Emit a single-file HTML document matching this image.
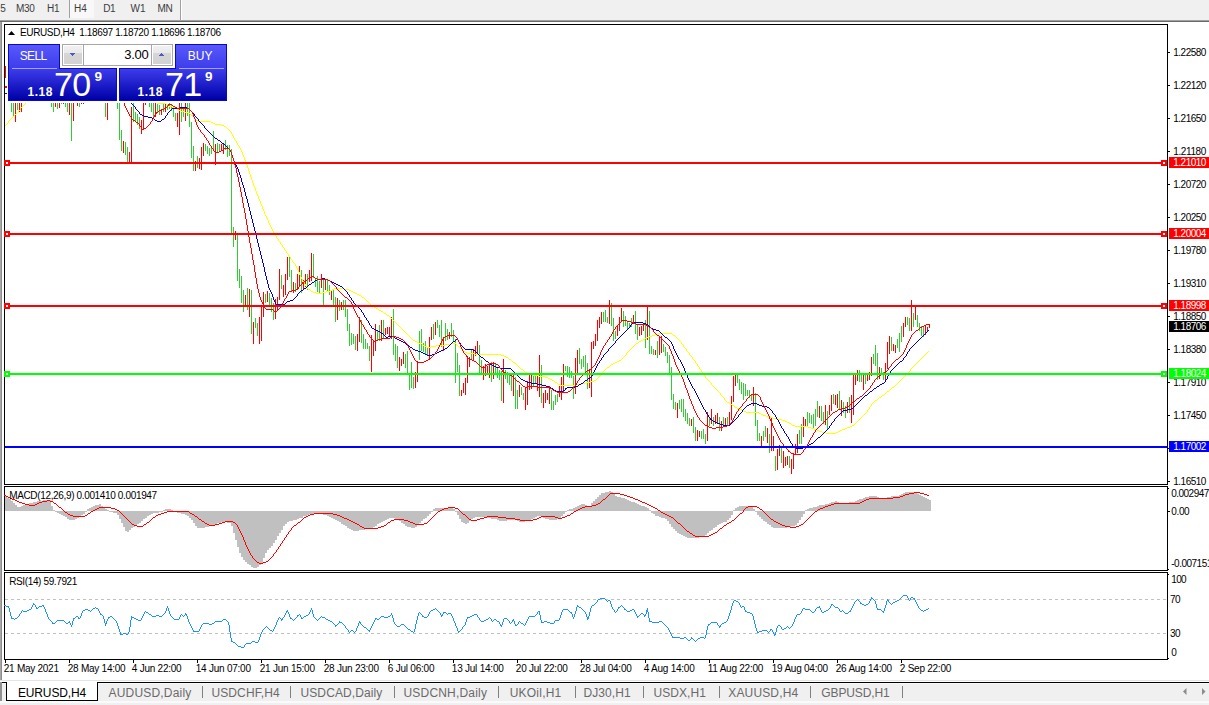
<!DOCTYPE html>
<html><head><meta charset="utf-8"><title>EURUSD,H4</title>
<style>
html,body{margin:0;padding:0;background:#fff;}
body{width:1209px;height:705px;overflow:hidden;position:relative;font-family:"Liberation Sans",sans-serif;font-size:11px;color:#000;}
.a{position:absolute;}
.t{position:absolute;white-space:nowrap;line-height:1;}
#tb{left:0;top:0;width:1209px;height:20px;background:#f0f0f0;}
.pl{position:absolute;left:1174px;font-size:10.5px;line-height:11px;white-space:nowrap;letter-spacing:-0.1px;}
.tag{position:absolute;left:1168px;width:41px;height:11px;color:#fff;font-size:10.5px;line-height:11px;padding-left:6px;box-sizing:border-box;white-space:nowrap;letter-spacing:-0.1px;}
.dl{position:absolute;top:664px;font-size:10.5px;line-height:11px;white-space:nowrap;letter-spacing:-0.15px;}
.tab{position:absolute;top:686px;font-size:12.5px;line-height:13px;color:#6a6a6a;white-space:nowrap;}
.sep{position:absolute;top:686px;width:1px;height:12px;background:#808080;}
</style></head><body>

<div class="a" id="tb"><div class="a" style="left:69px;top:0;width:1px;height:18px;background:#a0a0a0"></div><div class="a" style="left:70px;top:0;width:24px;height:18px;background:#f8f8f8"></div><div class="a" style="left:180px;top:0;width:1px;height:20px;background:#a0a0a0"></div><div class="a" style="left:181px;top:0;width:1px;height:20px;background:#fff"></div><div class="t" style="left:-6.10px;top:3px;font-size:10px;line-height:12px;letter-spacing:0.838px;color:#3c3c3c;">15</div><div class="t" style="left:16.00px;top:3px;font-size:10px;line-height:12px;letter-spacing:-0.318px;color:#3c3c3c;">M30</div><div class="t" style="left:47.10px;top:3px;font-size:10px;line-height:12px;letter-spacing:-0.292px;color:#3c3c3c;">H1</div><div class="t" style="left:74.10px;top:3px;font-size:10px;line-height:12px;letter-spacing:0.058px;color:#3c3c3c;">H4</div><div class="t" style="left:103.30px;top:3px;font-size:10px;line-height:12px;letter-spacing:-0.442px;color:#3c3c3c;">D1</div><div class="t" style="left:130.60px;top:3px;font-size:10px;line-height:12px;letter-spacing:-0.100px;color:#3c3c3c;">W1</div><div class="t" style="left:157.40px;top:3px;font-size:10px;line-height:12px;letter-spacing:-0.176px;color:#3c3c3c;">MN</div></div><div class="a" style="left:0;top:20px;width:1209px;height:1px;background:#a0a0a0"></div><div class="a" style="left:0;top:21px;width:1209px;height:1px;background:#6a6a6a"></div><div class="a" style="left:0;top:22px;width:1px;height:659px;background:#a8a8a8"></div><div class="a" style="left:1px;top:22px;width:1px;height:659px;background:#8c8c8c"></div>
<svg class="a" style="left:0;top:0" width="1209" height="705" viewBox="0 0 1209 705" shape-rendering="crispEdges">
<defs><clipPath id="cm"><rect x="5" y="103" width="1162" height="381"/></clipPath></defs>
<rect x="4.5" y="24.5" width="1163" height="460" fill="none" stroke="#000"/>
<rect x="4.5" y="486.5" width="1163" height="84" fill="none" stroke="#000"/>
<rect x="4.5" y="572.5" width="1163" height="87" fill="none" stroke="#000"/>
<g clip-path="url(#cm)">
<path d="M11 103h1v9h-1zM13 103h1v13h-1zM17 103h1v7h-1zM51 103h1v4h-1zM53 103h1v9h-1zM57 103h1v6h-1zM61 103h1v1h-1zM65 103h1v4h-1zM67 103h1v9h-1zM71 103h1v38h-1zM79 103h1v4h-1zM105 103h1v14h-1zM117 103h1v6h-1zM119 103h1v37h-1zM121 130h1v21h-1zM125 142h1v13h-1zM127 147h1v15h-1zM133 103h1v19h-1zM135 112h1v10h-1zM137 114h1v11h-1zM139 117h1v12h-1zM149 103h1v4h-1zM151 103h1v9h-1zM153 103h1v14h-1zM157 103h1v10h-1zM159 105h1v10h-1zM163 103h1v9h-1zM167 104h1v6h-1zM169 103h1v6h-1zM171 104h1v7h-1zM173 108h1v9h-1zM175 113h1v8h-1zM181 103h1v19h-1zM183 107h1v10h-1zM187 103h1v13h-1zM189 103h1v24h-1zM191 122h1v36h-1zM193 146h1v25h-1zM197 156h1v12h-1zM205 144h1v7h-1zM207 146h1v8h-1zM209 148h1v8h-1zM211 146h1v8h-1zM213 131h1v19h-1zM217 143h1v10h-1zM219 144h1v8h-1zM225 140h1v10h-1zM227 145h1v12h-1zM229 145h1v11h-1zM231 149h1v85h-1zM233 227h1v20h-1zM237 234h1v47h-1zM239 269h1v19h-1zM241 276h1v27h-1zM243 290h1v22h-1zM247 288h1v22h-1zM251 290h1v44h-1zM255 318h1v10h-1zM257 323h1v13h-1zM265 294h1v9h-1zM269 293h1v12h-1zM271 298h1v14h-1zM273 303h1v17h-1zM281 275h1v14h-1zM289 257h1v20h-1zM291 270h1v22h-1zM295 283h1v9h-1zM301 270h1v23h-1zM307 274h1v16h-1zM313 254h1v24h-1zM315 278h1v9h-1zM317 276h1v16h-1zM319 281h1v12h-1zM323 279h1v26h-1zM327 279h1v12h-1zM329 285h1v10h-1zM333 290h1v17h-1zM335 297h1v25h-1zM339 300h1v11h-1zM343 300h1v10h-1zM345 300h1v17h-1zM347 309h1v22h-1zM349 324h1v22h-1zM351 333h1v12h-1zM353 334h1v10h-1zM355 336h1v14h-1zM361 320h1v23h-1zM363 334h1v15h-1zM365 339h1v10h-1zM367 343h1v6h-1zM369 346h1v15h-1zM377 331h1v10h-1zM379 325h1v16h-1zM383 320h1v19h-1zM393 309h1v46h-1zM395 344h1v17h-1zM397 346h1v22h-1zM405 354h1v14h-1zM407 351h1v24h-1zM409 373h1v17h-1zM411 362h1v26h-1zM413 377h1v12h-1zM419 331h1v29h-1zM421 329h1v22h-1zM423 343h1v9h-1zM425 341h1v14h-1zM427 348h1v7h-1zM433 324h1v15h-1zM437 320h1v8h-1zM439 325h1v12h-1zM441 320h1v27h-1zM445 323h1v18h-1zM447 329h1v11h-1zM451 323h1v14h-1zM453 330h1v11h-1zM455 339h1v44h-1zM457 353h1v19h-1zM459 365h1v31h-1zM471 349h1v10h-1zM479 345h1v28h-1zM481 360h1v13h-1zM491 362h1v20h-1zM495 363h1v11h-1zM497 367h1v11h-1zM499 370h1v10h-1zM501 371h1v30h-1zM505 370h1v9h-1zM507 372h1v11h-1zM509 375h1v10h-1zM511 375h1v16h-1zM515 377h1v32h-1zM517 390h1v19h-1zM521 387h1v8h-1zM523 393h1v7h-1zM533 376h1v11h-1zM535 376h1v7h-1zM541 365h1v38h-1zM551 390h1v20h-1zM553 401h1v9h-1zM555 395h1v10h-1zM557 394h1v8h-1zM565 366h1v5h-1zM567 366h1v11h-1zM569 367h1v11h-1zM571 371h1v7h-1zM573 376h1v23h-1zM579 348h1v16h-1zM581 359h1v10h-1zM583 356h1v11h-1zM585 355h1v20h-1zM587 363h1v26h-1zM603 312h1v10h-1zM605 310h1v12h-1zM607 317h1v6h-1zM611 303h1v23h-1zM613 318h1v23h-1zM615 331h1v8h-1zM623 311h1v16h-1zM625 316h1v10h-1zM627 322h1v8h-1zM629 323h1v5h-1zM631 318h1v9h-1zM635 311h1v23h-1zM637 324h1v16h-1zM645 320h1v28h-1zM649 311h1v43h-1zM651 346h1v8h-1zM653 349h1v6h-1zM657 341h1v17h-1zM663 344h1v8h-1zM665 347h1v9h-1zM667 352h1v11h-1zM669 355h1v18h-1zM671 367h1v33h-1zM673 394h1v15h-1zM675 402h1v8h-1zM679 400h1v9h-1zM681 399h1v13h-1zM683 399h1v18h-1zM685 409h1v12h-1zM687 413h1v11h-1zM689 418h1v8h-1zM693 417h1v16h-1zM695 427h1v14h-1zM701 431h1v8h-1zM703 429h1v10h-1zM705 434h1v10h-1zM709 417h1v9h-1zM713 417h1v9h-1zM719 417h1v14h-1zM723 417h1v9h-1zM727 417h1v9h-1zM737 375h1v8h-1zM739 379h1v11h-1zM741 382h1v12h-1zM743 383h1v17h-1zM745 384h1v12h-1zM747 390h1v6h-1zM749 390h1v8h-1zM751 394h1v7h-1zM755 393h1v33h-1zM757 420h1v21h-1zM759 433h1v8h-1zM763 431h1v10h-1zM765 426h1v11h-1zM769 434h1v19h-1zM775 456h1v15h-1zM781 446h1v17h-1zM789 456h1v12h-1zM799 430h1v14h-1zM801 424h1v20h-1zM807 412h1v14h-1zM809 413h1v10h-1zM811 415h1v9h-1zM813 414h1v15h-1zM815 409h1v17h-1zM817 401h1v16h-1zM821 406h1v15h-1zM823 412h1v12h-1zM827 411h1v19h-1zM833 394h1v10h-1zM839 391h1v18h-1zM843 402h1v11h-1zM845 406h1v12h-1zM849 397h1v16h-1zM859 370h1v12h-1zM861 373h1v9h-1zM865 375h1v9h-1zM873 354h1v10h-1zM875 345h1v21h-1zM877 353h1v27h-1zM881 368h1v7h-1zM883 372h1v8h-1zM891 337h1v14h-1zM897 339h1v9h-1zM899 333h1v19h-1zM901 326h1v16h-1zM907 317h1v8h-1zM909 318h1v13h-1zM913 313h1v14h-1zM917 315h1v12h-1zM919 323h1v8h-1zM921 326h1v10h-1zM923 326h1v11h-1z" fill="#32cd32"/>
<path d="M15 103h1v19h-1zM19 103h1v9h-1zM21 103h1v9h-1zM55 103h1v4h-1zM59 103h1v5h-1zM63 103h1v1h-1zM69 103h1v12h-1zM73 103h1v18h-1zM77 103h1v3h-1zM81 103h1v1h-1zM83 103h1v1h-1zM107 103h1v17h-1zM123 141h1v12h-1zM129 152h1v10h-1zM131 107h1v55h-1zM141 120h1v14h-1zM143 103h1v26h-1zM145 103h1v2h-1zM155 103h1v14h-1zM161 110h1v5h-1zM165 103h1v9h-1zM177 113h1v14h-1zM179 103h1v32h-1zM185 103h1v18h-1zM195 161h1v10h-1zM199 158h1v11h-1zM201 147h1v23h-1zM203 143h1v13h-1zM215 144h1v21h-1zM221 144h1v7h-1zM223 143h1v11h-1zM235 231h1v9h-1zM245 295h1v12h-1zM249 289h1v28h-1zM253 322h1v22h-1zM259 317h1v27h-1zM261 305h1v36h-1zM263 292h1v25h-1zM267 291h1v11h-1zM275 299h1v20h-1zM277 297h1v13h-1zM279 269h1v31h-1zM283 285h1v12h-1zM285 274h1v21h-1zM287 257h1v23h-1zM293 282h1v11h-1zM297 274h1v16h-1zM299 266h1v21h-1zM303 280h1v10h-1zM305 274h1v13h-1zM309 270h1v12h-1zM311 253h1v28h-1zM321 274h1v14h-1zM325 279h1v11h-1zM331 291h1v9h-1zM337 298h1v22h-1zM341 302h1v8h-1zM357 334h1v17h-1zM359 317h1v25h-1zM371 335h1v37h-1zM373 340h1v16h-1zM375 324h1v27h-1zM381 320h1v21h-1zM385 328h1v7h-1zM387 327h1v7h-1zM389 327h1v9h-1zM391 317h1v22h-1zM399 357h1v14h-1zM401 359h1v7h-1zM403 352h1v12h-1zM415 372h1v16h-1zM417 361h1v21h-1zM429 337h1v23h-1zM431 327h1v13h-1zM435 322h1v13h-1zM443 337h1v14h-1zM449 332h1v7h-1zM461 390h1v6h-1zM463 383h1v10h-1zM465 378h1v17h-1zM467 356h1v27h-1zM469 357h1v10h-1zM473 349h1v11h-1zM475 346h1v10h-1zM477 341h1v12h-1zM483 366h1v14h-1zM485 364h1v12h-1zM487 366h1v8h-1zM489 363h1v15h-1zM493 362h1v17h-1zM503 359h1v44h-1zM513 375h1v21h-1zM519 385h1v12h-1zM525 388h1v22h-1zM527 381h1v24h-1zM529 374h1v16h-1zM531 373h1v16h-1zM537 375h1v16h-1zM539 355h1v42h-1zM543 393h1v15h-1zM545 390h1v13h-1zM547 393h1v7h-1zM549 386h1v18h-1zM559 386h1v11h-1zM561 377h1v23h-1zM563 364h1v28h-1zM575 358h1v36h-1zM577 350h1v23h-1zM589 370h1v18h-1zM591 342h1v55h-1zM593 341h1v8h-1zM595 334h1v12h-1zM597 320h1v21h-1zM599 317h1v11h-1zM601 312h1v12h-1zM609 300h1v24h-1zM617 326h1v10h-1zM619 317h1v14h-1zM621 308h1v14h-1zM633 315h1v8h-1zM639 327h1v9h-1zM641 326h1v9h-1zM643 323h1v8h-1zM647 307h1v33h-1zM655 350h1v5h-1zM659 336h1v19h-1zM661 336h1v17h-1zM677 403h1v15h-1zM691 419h1v7h-1zM697 430h1v11h-1zM699 431h1v6h-1zM707 412h1v29h-1zM711 409h1v15h-1zM715 415h1v9h-1zM717 413h1v11h-1zM721 421h1v10h-1zM725 418h1v9h-1zM729 412h1v14h-1zM731 396h1v24h-1zM733 376h1v26h-1zM735 373h1v13h-1zM753 387h1v19h-1zM761 436h1v11h-1zM767 428h1v15h-1zM771 417h1v34h-1zM773 436h1v15h-1zM777 449h1v21h-1zM779 445h1v11h-1zM783 451h1v17h-1zM785 457h1v9h-1zM787 456h1v9h-1zM791 459h1v15h-1zM793 453h1v16h-1zM795 444h1v11h-1zM797 434h1v19h-1zM803 417h1v20h-1zM805 419h1v8h-1zM819 406h1v12h-1zM825 405h1v20h-1zM829 405h1v10h-1zM831 395h1v16h-1zM835 395h1v10h-1zM837 394h1v14h-1zM841 400h1v16h-1zM847 402h1v11h-1zM851 395h1v28h-1zM853 375h1v40h-1zM855 375h1v10h-1zM857 370h1v11h-1zM863 375h1v15h-1zM867 374h1v7h-1zM869 372h1v8h-1zM871 357h1v19h-1zM879 367h1v12h-1zM885 363h1v19h-1zM887 342h1v27h-1zM889 336h1v18h-1zM893 344h1v7h-1zM895 345h1v8h-1zM903 323h1v14h-1zM905 317h1v10h-1zM911 300h1v31h-1zM915 306h1v14h-1zM925 326h1v9h-1zM927 327h1v5h-1z" fill="#ff0000"/>
<path d="M4 125h1v1h-1zM5 125h1v1h-1zM6 124h1v1h-1zM7 123h1v1h-1zM8 121h1v2h-1zM9 120h1v1h-1zM10 119h1v1h-1zM11 118h1v1h-1zM12 117h1v1h-1zM13 116h1v1h-1zM14 115h1v1h-1zM15 114h1v1h-1zM16 113h1v1h-1zM17 112h1v1h-1zM18 111h1v1h-1zM19 110h1v1h-1zM20 108h1v2h-1zM21 107h1v1h-1zM22 106h1v1h-1zM23 105h1v1h-1zM24 104h1v1h-1zM25 103h1v1h-1zM26 101h1v2h-1zM27 99h1v2h-1zM28 97h1v2h-1zM29 96h1v1h-1z" fill="#ffff00" />
<path d="M153 98h1v1h-1zM154 99h1v1h-1zM155 100h1v2h-1zM156 102h1v1h-1zM157 103h1v1h-1zM158 103h1v1h-1zM159 103h1v1h-1zM160 103h1v1h-1zM161 103h1v1h-1zM162 103h1v1h-1zM163 103h1v1h-1zM164 103h1v1h-1zM165 103h1v1h-1zM166 104h1v1h-1zM167 104h1v1h-1zM168 105h1v1h-1zM169 106h1v1h-1zM170 106h1v1h-1zM171 106h1v1h-1zM172 107h1v1h-1zM173 107h1v1h-1zM174 107h1v1h-1zM175 108h1v1h-1zM176 108h1v1h-1zM177 109h1v1h-1zM178 109h1v1h-1zM179 110h1v1h-1zM180 110h1v1h-1zM181 111h1v1h-1zM182 111h1v1h-1zM183 111h1v1h-1zM184 111h1v1h-1zM185 112h1v1h-1zM186 112h1v1h-1zM187 112h1v1h-1zM188 113h1v1h-1zM189 113h1v1h-1zM190 114h1v1h-1zM191 115h1v1h-1zM192 115h1v1h-1zM193 116h1v1h-1zM194 117h1v2h-1zM195 119h1v1h-1zM196 120h1v1h-1zM197 120h1v1h-1zM198 121h1v1h-1zM199 121h1v1h-1zM200 121h1v1h-1zM201 121h1v1h-1zM202 121h1v1h-1zM203 121h1v1h-1zM204 121h1v1h-1zM205 121h1v1h-1zM206 121h1v1h-1zM207 121h1v1h-1zM208 121h1v1h-1zM209 121h1v1h-1zM210 121h1v1h-1zM211 122h1v1h-1zM212 122h1v1h-1zM213 123h1v1h-1zM214 123h1v1h-1zM215 124h1v1h-1zM216 124h1v1h-1zM217 124h1v1h-1zM218 124h1v1h-1zM219 124h1v1h-1zM220 124h1v1h-1zM221 125h1v1h-1zM222 125h1v1h-1zM223 125h1v1h-1zM224 126h1v1h-1zM225 126h1v1h-1zM226 127h1v1h-1zM227 128h1v1h-1zM228 129h1v1h-1zM229 130h1v1h-1zM230 131h1v1h-1zM231 132h1v2h-1zM232 134h1v2h-1zM233 136h1v2h-1zM234 138h1v2h-1zM235 140h1v1h-1zM236 141h1v2h-1zM237 143h1v2h-1zM238 145h1v1h-1zM239 146h1v2h-1zM240 148h1v2h-1zM241 150h1v2h-1zM242 152h1v3h-1zM243 155h1v2h-1zM244 157h1v3h-1zM245 160h1v3h-1zM246 163h1v2h-1zM247 165h1v3h-1zM248 168h1v3h-1zM249 171h1v3h-1zM250 174h1v3h-1zM251 177h1v3h-1zM252 180h1v3h-1zM253 183h1v3h-1zM254 186h1v2h-1zM255 188h1v3h-1zM256 191h1v3h-1zM257 194h1v2h-1zM258 196h1v3h-1zM259 199h1v2h-1zM260 201h1v3h-1zM261 204h1v2h-1zM262 206h1v3h-1zM263 209h1v2h-1zM264 211h1v3h-1zM265 214h1v2h-1zM266 216h1v2h-1zM267 218h1v2h-1zM268 220h1v3h-1zM269 223h1v2h-1zM270 225h1v2h-1zM271 227h1v2h-1zM272 229h1v2h-1zM273 231h1v2h-1zM274 233h1v1h-1zM275 234h1v2h-1zM276 236h1v2h-1zM277 238h1v1h-1zM278 239h1v2h-1zM279 241h1v1h-1zM280 242h1v2h-1zM281 244h1v1h-1zM282 245h1v2h-1zM283 247h1v1h-1zM284 248h1v2h-1zM285 250h1v1h-1zM286 251h1v2h-1zM287 253h1v1h-1zM288 254h1v2h-1zM289 256h1v1h-1zM290 257h1v2h-1zM291 259h1v1h-1zM292 260h1v2h-1zM293 262h1v1h-1zM294 263h1v1h-1zM295 264h1v2h-1zM296 266h1v2h-1zM297 268h1v2h-1zM298 270h1v2h-1zM299 272h1v3h-1zM300 275h1v2h-1zM301 277h1v2h-1zM302 279h1v2h-1zM303 281h1v1h-1zM304 282h1v2h-1zM305 284h1v2h-1zM306 286h1v1h-1zM307 287h1v2h-1zM308 289h1v1h-1zM309 289h1v1h-1zM310 290h1v1h-1zM311 291h1v1h-1zM312 291h1v1h-1zM313 292h1v1h-1zM314 292h1v1h-1zM315 292h1v1h-1zM316 293h1v1h-1zM317 293h1v1h-1zM318 293h1v1h-1zM319 293h1v1h-1zM320 293h1v1h-1zM321 293h1v1h-1zM322 292h1v1h-1zM323 292h1v1h-1zM324 292h1v1h-1zM325 292h1v1h-1zM326 291h1v1h-1zM327 291h1v1h-1zM328 291h1v1h-1zM329 291h1v1h-1zM330 290h1v1h-1zM331 290h1v1h-1zM332 289h1v1h-1zM333 289h1v1h-1zM334 288h1v1h-1zM335 288h1v1h-1zM336 288h1v1h-1zM337 288h1v1h-1zM338 288h1v1h-1zM339 288h1v1h-1zM340 288h1v1h-1zM341 288h1v1h-1zM342 288h1v1h-1zM343 288h1v1h-1zM344 289h1v1h-1zM345 289h1v1h-1zM346 289h1v1h-1zM347 289h1v1h-1zM348 289h1v1h-1zM349 290h1v1h-1zM350 290h1v1h-1zM351 291h1v1h-1zM352 291h1v1h-1zM353 292h1v1h-1zM354 292h1v1h-1zM355 293h1v1h-1zM356 293h1v1h-1zM357 294h1v1h-1zM358 294h1v1h-1zM359 295h1v1h-1zM360 295h1v1h-1zM361 296h1v1h-1zM362 297h1v1h-1zM363 297h1v1h-1zM364 298h1v1h-1zM365 299h1v1h-1zM366 300h1v1h-1zM367 301h1v1h-1zM368 302h1v1h-1zM369 303h1v1h-1zM370 304h1v1h-1zM371 305h1v1h-1zM372 306h1v1h-1zM373 306h1v1h-1zM374 307h1v1h-1zM375 307h1v1h-1zM376 308h1v1h-1zM377 308h1v1h-1zM378 309h1v1h-1zM379 310h1v1h-1zM380 310h1v1h-1zM381 311h1v1h-1zM382 311h1v1h-1zM383 312h1v1h-1zM384 313h1v1h-1zM385 313h1v1h-1zM386 314h1v1h-1zM387 315h1v1h-1zM388 315h1v1h-1zM389 316h1v1h-1zM390 317h1v1h-1zM391 318h1v1h-1zM392 319h1v1h-1zM393 320h1v1h-1zM394 321h1v1h-1zM395 322h1v1h-1zM396 323h1v1h-1zM397 324h1v1h-1zM398 325h1v1h-1zM399 326h1v1h-1zM400 327h1v1h-1zM401 328h1v1h-1zM402 329h1v1h-1zM403 330h1v1h-1zM404 331h1v1h-1zM405 332h1v1h-1zM406 333h1v1h-1zM407 334h1v1h-1zM408 335h1v1h-1zM409 336h1v1h-1zM410 337h1v1h-1zM411 338h1v1h-1zM412 339h1v1h-1zM413 340h1v1h-1zM414 340h1v1h-1zM415 341h1v1h-1zM416 341h1v1h-1zM417 342h1v1h-1zM418 342h1v1h-1zM419 343h1v1h-1zM420 343h1v1h-1zM421 343h1v1h-1zM422 344h1v1h-1zM423 345h1v1h-1zM424 345h1v1h-1zM425 346h1v1h-1zM426 346h1v1h-1zM427 347h1v1h-1zM428 347h1v1h-1zM429 347h1v1h-1zM430 347h1v1h-1zM431 346h1v1h-1zM432 346h1v1h-1zM433 346h1v1h-1zM434 346h1v1h-1zM435 346h1v1h-1zM436 345h1v1h-1zM437 345h1v1h-1zM438 345h1v1h-1zM439 345h1v1h-1zM440 345h1v1h-1zM441 345h1v1h-1zM442 345h1v1h-1zM443 345h1v1h-1zM444 345h1v1h-1zM445 344h1v1h-1zM446 344h1v1h-1zM447 344h1v1h-1zM448 344h1v1h-1zM449 344h1v1h-1zM450 344h1v1h-1zM451 343h1v1h-1zM452 343h1v1h-1zM453 343h1v1h-1zM454 343h1v1h-1zM455 343h1v1h-1zM456 344h1v1h-1zM457 345h1v1h-1zM458 346h1v1h-1zM459 347h1v1h-1zM460 348h1v1h-1zM461 348h1v1h-1zM462 349h1v2h-1zM463 350h1v1h-1zM464 351h1v1h-1zM465 352h1v1h-1zM466 352h1v1h-1zM467 353h1v1h-1zM468 353h1v1h-1zM469 353h1v1h-1zM470 353h1v1h-1zM471 353h1v1h-1zM472 353h1v1h-1zM473 353h1v1h-1zM474 353h1v1h-1zM475 354h1v1h-1zM476 354h1v1h-1zM477 354h1v1h-1zM478 354h1v1h-1zM479 354h1v1h-1zM480 354h1v1h-1zM481 354h1v1h-1zM482 354h1v1h-1zM483 354h1v1h-1zM484 354h1v1h-1zM485 354h1v1h-1zM486 354h1v1h-1zM487 354h1v1h-1zM488 354h1v1h-1zM489 354h1v1h-1zM490 354h1v1h-1zM491 354h1v1h-1zM492 354h1v1h-1zM493 354h1v1h-1zM494 354h1v1h-1zM495 354h1v1h-1zM496 354h1v1h-1zM497 354h1v1h-1zM498 354h1v1h-1zM499 354h1v1h-1zM500 354h1v1h-1zM501 355h1v1h-1zM502 355h1v1h-1zM503 355h1v1h-1zM504 356h1v1h-1zM505 356h1v1h-1zM506 357h1v1h-1zM507 357h1v1h-1zM508 358h1v1h-1zM509 359h1v1h-1zM510 359h1v1h-1zM511 360h1v1h-1zM512 361h1v1h-1zM513 362h1v1h-1zM514 362h1v1h-1zM515 363h1v1h-1zM516 364h1v1h-1zM517 365h1v1h-1zM518 366h1v1h-1zM519 367h1v1h-1zM520 368h1v1h-1zM521 369h1v1h-1zM522 369h1v1h-1zM523 370h1v1h-1zM524 371h1v1h-1zM525 372h1v1h-1zM526 372h1v1h-1zM527 373h1v1h-1zM528 373h1v1h-1zM529 373h1v1h-1zM530 374h1v1h-1zM531 374h1v1h-1zM532 374h1v1h-1zM533 374h1v1h-1zM534 375h1v1h-1zM535 375h1v1h-1zM536 375h1v1h-1zM537 375h1v1h-1zM538 375h1v1h-1zM539 376h1v1h-1zM540 376h1v1h-1zM541 376h1v1h-1zM542 376h1v1h-1zM543 376h1v1h-1zM544 376h1v1h-1zM545 377h1v1h-1zM546 377h1v1h-1zM547 377h1v1h-1zM548 378h1v1h-1zM549 378h1v1h-1zM550 379h1v1h-1zM551 379h1v1h-1zM552 380h1v1h-1zM553 380h1v1h-1zM554 381h1v1h-1zM555 382h1v1h-1zM556 382h1v1h-1zM557 383h1v1h-1zM558 384h1v1h-1zM559 384h1v1h-1zM560 384h1v1h-1zM561 385h1v1h-1zM562 385h1v1h-1zM563 385h1v1h-1zM564 385h1v1h-1zM565 385h1v1h-1zM566 385h1v1h-1zM567 385h1v1h-1zM568 385h1v1h-1zM569 385h1v1h-1zM570 385h1v1h-1zM571 385h1v1h-1zM572 385h1v1h-1zM573 385h1v1h-1zM574 385h1v1h-1zM575 385h1v1h-1zM576 384h1v1h-1zM577 384h1v1h-1zM578 384h1v1h-1zM579 384h1v1h-1zM580 384h1v1h-1zM581 384h1v1h-1zM582 383h1v1h-1zM583 383h1v1h-1zM584 383h1v1h-1zM585 383h1v1h-1zM586 382h1v1h-1zM587 382h1v1h-1zM588 382h1v1h-1zM589 382h1v1h-1zM590 381h1v1h-1zM591 381h1v1h-1zM592 381h1v1h-1zM593 381h1v1h-1zM594 380h1v1h-1zM595 380h1v1h-1zM596 379h1v1h-1zM597 378h1v1h-1zM598 377h1v1h-1zM599 376h1v1h-1zM600 375h1v1h-1zM601 373h1v2h-1zM602 372h1v1h-1zM603 371h1v1h-1zM604 370h1v1h-1zM605 369h1v1h-1zM606 368h1v1h-1zM607 367h1v1h-1zM608 367h1v1h-1zM609 366h1v1h-1zM610 365h1v1h-1zM611 364h1v1h-1zM612 364h1v1h-1zM613 363h1v1h-1zM614 363h1v1h-1zM615 362h1v1h-1zM616 362h1v1h-1zM617 361h1v1h-1zM618 361h1v1h-1zM619 360h1v1h-1zM620 360h1v1h-1zM621 359h1v1h-1zM622 358h1v1h-1zM623 357h1v1h-1zM624 356h1v1h-1zM625 355h1v1h-1zM626 353h1v2h-1zM627 352h1v1h-1zM628 351h1v1h-1zM629 350h1v1h-1zM630 349h1v1h-1zM631 348h1v1h-1zM632 347h1v1h-1zM633 346h1v1h-1zM634 345h1v1h-1zM635 344h1v1h-1zM636 343h1v1h-1zM637 343h1v1h-1zM638 342h1v1h-1zM639 341h1v1h-1zM640 341h1v1h-1zM641 340h1v1h-1zM642 340h1v1h-1zM643 339h1v1h-1zM644 339h1v1h-1zM645 338h1v1h-1zM646 338h1v1h-1zM647 337h1v1h-1zM648 337h1v1h-1zM649 336h1v1h-1zM650 336h1v1h-1zM651 336h1v1h-1zM652 335h1v1h-1zM653 335h1v1h-1zM654 335h1v1h-1zM655 334h1v1h-1zM656 334h1v1h-1zM657 334h1v1h-1zM658 333h1v1h-1zM659 333h1v1h-1zM660 333h1v1h-1zM661 333h1v1h-1zM662 333h1v1h-1zM663 333h1v1h-1zM664 333h1v1h-1zM665 333h1v1h-1zM666 333h1v1h-1zM667 333h1v1h-1zM668 333h1v1h-1zM669 333h1v1h-1zM670 333h1v1h-1zM671 333h1v1h-1zM672 334h1v1h-1zM673 335h1v1h-1zM674 335h1v1h-1zM675 336h1v1h-1zM676 337h1v1h-1zM677 338h1v1h-1zM678 339h1v1h-1zM679 340h1v1h-1zM680 341h1v1h-1zM681 342h1v2h-1zM682 344h1v1h-1zM683 345h1v2h-1zM684 347h1v1h-1zM685 348h1v1h-1zM686 349h1v2h-1zM687 351h1v1h-1zM688 352h1v1h-1zM689 353h1v2h-1zM690 355h1v1h-1zM691 356h1v1h-1zM692 357h1v2h-1zM693 359h1v1h-1zM694 360h1v1h-1zM695 361h1v2h-1zM696 363h1v1h-1zM697 364h1v2h-1zM698 366h1v1h-1zM699 367h1v2h-1zM700 369h1v1h-1zM701 370h1v2h-1zM702 372h1v1h-1zM703 373h1v2h-1zM704 375h1v1h-1zM705 376h1v2h-1zM706 378h1v1h-1zM707 379h1v1h-1zM708 380h1v1h-1zM709 381h1v1h-1zM710 382h1v1h-1zM711 383h1v2h-1zM712 385h1v1h-1zM713 386h1v1h-1zM714 387h1v1h-1zM715 388h1v1h-1zM716 389h1v1h-1zM717 390h1v1h-1zM718 391h1v1h-1zM719 392h1v1h-1zM720 393h1v2h-1zM721 395h1v1h-1zM722 396h1v1h-1zM723 397h1v1h-1zM724 398h1v2h-1zM725 400h1v1h-1zM726 401h1v1h-1zM727 402h1v1h-1zM728 402h1v1h-1zM729 403h1v1h-1zM730 404h1v1h-1zM731 404h1v1h-1zM732 405h1v1h-1zM733 405h1v1h-1zM734 406h1v1h-1zM735 407h1v1h-1zM736 407h1v1h-1zM737 408h1v1h-1zM738 408h1v1h-1zM739 409h1v1h-1zM740 409h1v1h-1zM741 409h1v1h-1zM742 410h1v1h-1zM743 410h1v1h-1zM744 411h1v1h-1zM745 411h1v1h-1zM746 412h1v1h-1zM747 412h1v1h-1zM748 412h1v1h-1zM749 412h1v1h-1zM750 412h1v1h-1zM751 412h1v1h-1zM752 412h1v1h-1zM753 412h1v1h-1zM754 412h1v1h-1zM755 412h1v1h-1zM756 412h1v1h-1zM757 412h1v1h-1zM758 412h1v1h-1zM759 413h1v1h-1zM760 413h1v1h-1zM761 414h1v1h-1zM762 414h1v1h-1zM763 415h1v1h-1zM764 415h1v1h-1zM765 415h1v1h-1zM766 416h1v1h-1zM767 416h1v1h-1zM768 416h1v1h-1zM769 417h1v1h-1zM770 417h1v1h-1zM771 417h1v1h-1zM772 417h1v1h-1zM773 418h1v1h-1zM774 418h1v1h-1zM775 418h1v1h-1zM776 418h1v1h-1zM777 418h1v1h-1zM778 419h1v1h-1zM779 419h1v1h-1zM780 419h1v1h-1zM781 419h1v1h-1zM782 420h1v1h-1zM783 420h1v1h-1zM784 420h1v1h-1zM785 421h1v1h-1zM786 421h1v1h-1zM787 422h1v1h-1zM788 422h1v1h-1zM789 423h1v1h-1zM790 423h1v1h-1zM791 424h1v1h-1zM792 425h1v1h-1zM793 425h1v1h-1zM794 425h1v1h-1zM795 426h1v1h-1zM796 426h1v1h-1zM797 426h1v1h-1zM798 426h1v1h-1zM799 426h1v1h-1zM800 426h1v1h-1zM801 426h1v1h-1zM802 426h1v1h-1zM803 426h1v1h-1zM804 426h1v1h-1zM805 426h1v1h-1zM806 426h1v1h-1zM807 426h1v1h-1zM808 427h1v1h-1zM809 427h1v1h-1zM810 427h1v1h-1zM811 428h1v1h-1zM812 428h1v1h-1zM813 428h1v1h-1zM814 429h1v1h-1zM815 429h1v1h-1zM816 429h1v1h-1zM817 430h1v1h-1zM818 430h1v1h-1zM819 431h1v1h-1zM820 431h1v1h-1zM821 431h1v1h-1zM822 432h1v1h-1zM823 432h1v1h-1zM824 432h1v1h-1zM825 432h1v1h-1zM826 433h1v1h-1zM827 433h1v1h-1zM828 433h1v1h-1zM829 433h1v1h-1zM830 433h1v1h-1zM831 433h1v1h-1zM832 433h1v1h-1zM833 433h1v1h-1zM834 433h1v1h-1zM835 433h1v1h-1zM836 432h1v1h-1zM837 432h1v1h-1zM838 431h1v1h-1zM839 431h1v1h-1zM840 430h1v1h-1zM841 430h1v1h-1zM842 429h1v1h-1zM843 429h1v1h-1zM844 429h1v1h-1zM845 428h1v1h-1zM846 428h1v1h-1zM847 427h1v1h-1zM848 427h1v1h-1zM849 427h1v1h-1zM850 426h1v1h-1zM851 426h1v1h-1zM852 425h1v1h-1zM853 425h1v1h-1zM854 424h1v1h-1zM855 423h1v1h-1zM856 422h1v1h-1zM857 421h1v1h-1zM858 420h1v1h-1zM859 419h1v1h-1zM860 418h1v1h-1zM861 417h1v1h-1zM862 416h1v1h-1zM863 415h1v1h-1zM864 414h1v1h-1zM865 413h1v1h-1zM866 412h1v1h-1zM867 410h1v2h-1zM868 409h1v1h-1zM869 407h1v2h-1zM870 406h1v1h-1zM871 404h1v2h-1zM872 403h1v1h-1zM873 402h1v1h-1zM874 401h1v1h-1zM875 400h1v1h-1zM876 400h1v1h-1zM877 399h1v1h-1zM878 398h1v1h-1zM879 397h1v1h-1zM880 397h1v1h-1zM881 396h1v1h-1zM882 395h1v1h-1zM883 395h1v1h-1zM884 394h1v1h-1zM885 393h1v1h-1zM886 392h1v1h-1zM887 391h1v1h-1zM888 391h1v1h-1zM889 390h1v1h-1zM890 389h1v1h-1zM891 388h1v1h-1zM892 387h1v1h-1zM893 387h1v1h-1zM894 386h1v1h-1zM895 385h1v1h-1zM896 384h1v1h-1zM897 383h1v1h-1zM898 382h1v1h-1zM899 381h1v1h-1zM900 380h1v1h-1zM901 379h1v1h-1zM902 378h1v1h-1zM903 377h1v1h-1zM904 376h1v1h-1zM905 375h1v1h-1zM906 374h1v1h-1zM907 373h1v1h-1zM908 372h1v1h-1zM909 371h1v1h-1zM910 369h1v2h-1zM911 368h1v1h-1zM912 367h1v1h-1zM913 366h1v1h-1zM914 365h1v1h-1zM915 364h1v1h-1zM916 363h1v1h-1zM917 362h1v1h-1zM918 361h1v1h-1zM919 360h1v1h-1zM920 359h1v1h-1zM921 358h1v1h-1zM922 357h1v1h-1zM923 356h1v1h-1zM924 355h1v1h-1zM925 354h1v1h-1zM926 353h1v1h-1zM927 352h1v1h-1zM928 351h1v1h-1z" fill="#ffff00" />
<path d="M126 95h1v1h-1zM127 96h1v1h-1zM128 97h1v2h-1zM129 99h1v2h-1zM130 101h1v1h-1zM131 102h1v2h-1zM132 104h1v1h-1zM133 105h1v1h-1zM134 106h1v1h-1zM135 107h1v2h-1zM136 109h1v1h-1zM137 110h1v1h-1zM138 111h1v1h-1zM139 112h1v2h-1zM140 114h1v1h-1zM141 114h1v1h-1zM142 115h1v1h-1zM143 115h1v1h-1zM144 116h1v1h-1zM145 116h1v1h-1zM146 116h1v1h-1zM147 116h1v1h-1zM148 117h1v1h-1zM149 117h1v1h-1zM150 117h1v1h-1zM151 117h1v1h-1zM152 118h1v1h-1zM153 118h1v1h-1zM154 119h1v1h-1zM155 120h1v1h-1zM156 120h1v1h-1zM157 121h1v1h-1zM158 121h1v1h-1zM159 121h1v1h-1zM160 121h1v1h-1zM161 120h1v1h-1zM162 119h1v1h-1zM163 119h1v1h-1zM164 118h1v1h-1zM165 116h1v2h-1zM166 115h1v1h-1zM167 113h1v2h-1zM168 112h1v1h-1zM169 111h1v1h-1zM170 110h1v1h-1zM171 109h1v1h-1zM172 108h1v1h-1zM173 108h1v1h-1zM174 108h1v1h-1zM175 108h1v1h-1zM176 108h1v1h-1zM177 108h1v1h-1zM178 108h1v1h-1zM179 108h1v1h-1zM180 107h1v1h-1zM181 107h1v1h-1zM182 107h1v1h-1zM183 107h1v1h-1zM184 107h1v1h-1zM185 107h1v1h-1zM186 107h1v1h-1zM187 108h1v1h-1zM188 108h1v1h-1zM189 109h1v1h-1zM190 110h1v1h-1zM191 111h1v1h-1zM192 112h1v1h-1zM193 113h1v1h-1zM194 114h1v2h-1zM195 116h1v1h-1zM196 117h1v1h-1zM197 118h1v1h-1zM198 119h1v2h-1zM199 121h1v1h-1zM200 122h1v1h-1zM201 123h1v1h-1zM202 124h1v1h-1zM203 125h1v1h-1zM204 126h1v2h-1zM205 128h1v1h-1zM206 129h1v1h-1zM207 130h1v1h-1zM208 131h1v1h-1zM209 132h1v1h-1zM210 133h1v1h-1zM211 134h1v1h-1zM212 135h1v1h-1zM213 136h1v1h-1zM214 137h1v1h-1zM215 138h1v1h-1zM216 138h1v1h-1zM217 139h1v1h-1zM218 140h1v1h-1zM219 140h1v1h-1zM220 141h1v1h-1zM221 142h1v1h-1zM222 143h1v1h-1zM223 143h1v1h-1zM224 144h1v1h-1zM225 145h1v1h-1zM226 146h1v1h-1zM227 147h1v1h-1zM228 148h1v1h-1zM229 149h1v1h-1zM230 150h1v2h-1zM231 152h1v3h-1zM232 155h1v3h-1zM233 158h1v3h-1zM234 161h1v2h-1zM235 163h1v2h-1zM236 165h1v2h-1zM237 167h1v2h-1zM238 169h1v3h-1zM239 172h1v3h-1zM240 175h1v3h-1zM241 178h1v4h-1zM242 182h1v3h-1zM243 185h1v3h-1zM244 188h1v4h-1zM245 192h1v4h-1zM246 196h1v3h-1zM247 199h1v4h-1zM248 203h1v4h-1zM249 207h1v4h-1zM250 211h1v4h-1zM251 215h1v4h-1zM252 219h1v4h-1zM253 223h1v4h-1zM254 227h1v4h-1zM255 231h1v4h-1zM256 235h1v4h-1zM257 239h1v4h-1zM258 243h1v4h-1zM259 247h1v4h-1zM260 251h1v4h-1zM261 255h1v4h-1zM262 259h1v4h-1zM263 263h1v4h-1zM264 267h1v5h-1zM265 272h1v4h-1zM266 276h1v4h-1zM267 280h1v4h-1zM268 284h1v4h-1zM269 288h1v2h-1zM270 290h1v2h-1zM271 292h1v2h-1zM272 294h1v3h-1zM273 297h1v3h-1zM274 300h1v2h-1zM275 302h1v2h-1zM276 304h1v1h-1zM277 304h1v1h-1zM278 304h1v1h-1zM279 304h1v1h-1zM280 304h1v1h-1zM281 304h1v1h-1zM282 304h1v1h-1zM283 304h1v1h-1zM284 304h1v1h-1zM285 303h1v1h-1zM286 302h1v1h-1zM287 301h1v1h-1zM288 301h1v1h-1zM289 301h1v1h-1zM290 300h1v1h-1zM291 300h1v1h-1zM292 300h1v1h-1zM293 299h1v1h-1zM294 298h1v1h-1zM295 297h1v1h-1zM296 296h1v1h-1zM297 294h1v2h-1zM298 293h1v1h-1zM299 292h1v1h-1zM300 291h1v1h-1zM301 290h1v1h-1zM302 290h1v1h-1zM303 289h1v1h-1zM304 288h1v1h-1zM305 288h1v1h-1zM306 287h1v1h-1zM307 286h1v1h-1zM308 285h1v1h-1zM309 284h1v1h-1zM310 284h1v1h-1zM311 283h1v1h-1zM312 282h1v1h-1zM313 282h1v1h-1zM314 281h1v1h-1zM315 280h1v1h-1zM316 280h1v1h-1zM317 279h1v1h-1zM318 279h1v1h-1zM319 279h1v1h-1zM320 279h1v1h-1zM321 279h1v1h-1zM322 278h1v1h-1zM323 278h1v1h-1zM324 278h1v1h-1zM325 279h1v1h-1zM326 279h1v1h-1zM327 279h1v1h-1zM328 280h1v1h-1zM329 280h1v1h-1zM330 281h1v1h-1zM331 281h1v1h-1zM332 282h1v1h-1zM333 282h1v1h-1zM334 283h1v1h-1zM335 283h1v1h-1zM336 284h1v1h-1zM337 284h1v1h-1zM338 285h1v1h-1zM339 285h1v1h-1zM340 286h1v1h-1zM341 286h1v1h-1zM342 287h1v1h-1zM343 288h1v1h-1zM344 289h1v1h-1zM345 290h1v1h-1zM346 291h1v1h-1zM347 292h1v2h-1zM348 294h1v1h-1zM349 295h1v2h-1zM350 297h1v1h-1zM351 298h1v2h-1zM352 300h1v1h-1zM353 301h1v2h-1zM354 303h1v1h-1zM355 304h1v1h-1zM356 305h1v1h-1zM357 306h1v1h-1zM358 307h1v1h-1zM359 308h1v1h-1zM360 309h1v1h-1zM361 310h1v2h-1zM362 312h1v1h-1zM363 313h1v2h-1zM364 315h1v2h-1zM365 317h1v1h-1zM366 318h1v2h-1zM367 320h1v1h-1zM368 321h1v2h-1zM369 323h1v2h-1zM370 325h1v1h-1zM371 326h1v2h-1zM372 328h1v1h-1zM373 328h1v1h-1zM374 329h1v1h-1zM375 329h1v1h-1zM376 330h1v1h-1zM377 330h1v1h-1zM378 331h1v1h-1zM379 331h1v1h-1zM380 332h1v1h-1zM381 333h1v1h-1zM382 333h1v1h-1zM383 334h1v1h-1zM384 335h1v1h-1zM385 336h1v1h-1zM386 337h1v1h-1zM387 337h1v1h-1zM388 336h1v1h-1zM389 336h1v1h-1zM390 336h1v1h-1zM391 336h1v1h-1zM392 336h1v1h-1zM393 336h1v1h-1zM394 337h1v1h-1zM395 338h1v1h-1zM396 338h1v1h-1zM397 339h1v1h-1zM398 339h1v1h-1zM399 340h1v1h-1zM400 340h1v1h-1zM401 341h1v1h-1zM402 341h1v1h-1zM403 342h1v1h-1zM404 342h1v1h-1zM405 343h1v1h-1zM406 344h1v1h-1zM407 344h1v1h-1zM408 345h1v1h-1zM409 346h1v1h-1zM410 347h1v1h-1zM411 347h1v1h-1zM412 348h1v1h-1zM413 349h1v1h-1zM414 349h1v1h-1zM415 350h1v1h-1zM416 350h1v1h-1zM417 350h1v1h-1zM418 351h1v1h-1zM419 351h1v1h-1zM420 351h1v1h-1zM421 352h1v1h-1zM422 352h1v1h-1zM423 353h1v1h-1zM424 353h1v1h-1zM425 354h1v1h-1zM426 354h1v1h-1zM427 355h1v1h-1zM428 355h1v1h-1zM429 355h1v1h-1zM430 355h1v1h-1zM431 355h1v1h-1zM432 354h1v1h-1zM433 354h1v1h-1zM434 354h1v1h-1zM435 353h1v1h-1zM436 353h1v1h-1zM437 352h1v1h-1zM438 352h1v1h-1zM439 351h1v1h-1zM440 351h1v1h-1zM441 350h1v1h-1zM442 350h1v1h-1zM443 349h1v1h-1zM444 349h1v1h-1zM445 348h1v1h-1zM446 348h1v1h-1zM447 347h1v1h-1zM448 346h1v1h-1zM449 345h1v1h-1zM450 344h1v1h-1zM451 343h1v1h-1zM452 342h1v1h-1zM453 341h1v1h-1zM454 341h1v1h-1zM455 340h1v1h-1zM456 339h1v1h-1zM457 339h1v1h-1zM458 340h1v2h-1zM459 342h1v1h-1zM460 343h1v2h-1zM461 345h1v1h-1zM462 346h1v1h-1zM463 347h1v1h-1zM464 348h1v1h-1zM465 349h1v1h-1zM466 349h1v1h-1zM467 349h1v1h-1zM468 349h1v1h-1zM469 349h1v1h-1zM470 349h1v1h-1zM471 349h1v1h-1zM472 349h1v1h-1zM473 350h1v1h-1zM474 350h1v1h-1zM475 351h1v1h-1zM476 352h1v1h-1zM477 353h1v1h-1zM478 354h1v1h-1zM479 355h1v1h-1zM480 356h1v1h-1zM481 357h1v1h-1zM482 357h1v1h-1zM483 358h1v1h-1zM484 359h1v1h-1zM485 360h1v1h-1zM486 361h1v1h-1zM487 361h1v1h-1zM488 362h1v1h-1zM489 363h1v1h-1zM490 364h1v1h-1zM491 364h1v1h-1zM492 365h1v1h-1zM493 365h1v1h-1zM494 366h1v1h-1zM495 366h1v1h-1zM496 367h1v1h-1zM497 367h1v1h-1zM498 367h1v1h-1zM499 367h1v1h-1zM500 368h1v1h-1zM501 368h1v1h-1zM502 368h1v1h-1zM503 368h1v1h-1zM504 368h1v1h-1zM505 368h1v1h-1zM506 368h1v1h-1zM507 368h1v1h-1zM508 368h1v1h-1zM509 368h1v1h-1zM510 368h1v1h-1zM511 369h1v1h-1zM512 370h1v1h-1zM513 371h1v1h-1zM514 372h1v1h-1zM515 373h1v1h-1zM516 374h1v1h-1zM517 375h1v1h-1zM518 376h1v1h-1zM519 377h1v1h-1zM520 378h1v1h-1zM521 379h1v1h-1zM522 379h1v1h-1zM523 380h1v1h-1zM524 380h1v1h-1zM525 381h1v1h-1zM526 381h1v1h-1zM527 382h1v1h-1zM528 382h1v1h-1zM529 382h1v1h-1zM530 382h1v1h-1zM531 383h1v1h-1zM532 383h1v1h-1zM533 383h1v1h-1zM534 383h1v1h-1zM535 383h1v1h-1zM536 383h1v1h-1zM537 384h1v1h-1zM538 384h1v1h-1zM539 384h1v1h-1zM540 384h1v1h-1zM541 384h1v1h-1zM542 385h1v1h-1zM543 385h1v1h-1zM544 385h1v1h-1zM545 385h1v1h-1zM546 386h1v1h-1zM547 386h1v1h-1zM548 386h1v1h-1zM549 387h1v1h-1zM550 387h1v1h-1zM551 388h1v1h-1zM552 388h1v1h-1zM553 389h1v1h-1zM554 390h1v1h-1zM555 390h1v1h-1zM556 391h1v1h-1zM557 391h1v1h-1zM558 391h1v1h-1zM559 391h1v1h-1zM560 391h1v1h-1zM561 391h1v1h-1zM562 391h1v1h-1zM563 390h1v1h-1zM564 390h1v1h-1zM565 388h1v2h-1zM566 388h1v1h-1zM567 387h1v1h-1zM568 387h1v1h-1zM569 387h1v1h-1zM570 387h1v1h-1zM571 387h1v1h-1zM572 387h1v1h-1zM573 387h1v1h-1zM574 387h1v1h-1zM575 386h1v1h-1zM576 386h1v1h-1zM577 386h1v1h-1zM578 385h1v1h-1zM579 384h1v1h-1zM580 384h1v1h-1zM581 383h1v1h-1zM582 383h1v1h-1zM583 382h1v1h-1zM584 381h1v1h-1zM585 380h1v1h-1zM586 380h1v1h-1zM587 379h1v1h-1zM588 378h1v1h-1zM589 378h1v1h-1zM590 377h1v1h-1zM591 376h1v1h-1zM592 374h1v2h-1zM593 372h1v2h-1zM594 370h1v2h-1zM595 368h1v2h-1zM596 366h1v2h-1zM597 364h1v2h-1zM598 363h1v1h-1zM599 361h1v2h-1zM600 360h1v1h-1zM601 358h1v2h-1zM602 357h1v1h-1zM603 355h1v2h-1zM604 354h1v1h-1zM605 353h1v1h-1zM606 352h1v1h-1zM607 351h1v1h-1zM608 349h1v2h-1zM609 348h1v1h-1zM610 347h1v1h-1zM611 346h1v1h-1zM612 345h1v1h-1zM613 344h1v1h-1zM614 343h1v1h-1zM615 341h1v2h-1zM616 340h1v1h-1zM617 339h1v1h-1zM618 338h1v1h-1zM619 337h1v1h-1zM620 336h1v1h-1zM621 335h1v1h-1zM622 334h1v1h-1zM623 333h1v1h-1zM624 332h1v1h-1zM625 331h1v1h-1zM626 330h1v1h-1zM627 329h1v1h-1zM628 328h1v1h-1zM629 327h1v1h-1zM630 325h1v2h-1zM631 324h1v1h-1zM632 323h1v1h-1zM633 323h1v1h-1zM634 322h1v1h-1zM635 322h1v1h-1zM636 322h1v1h-1zM637 322h1v1h-1zM638 322h1v1h-1zM639 322h1v1h-1zM640 322h1v1h-1zM641 322h1v1h-1zM642 322h1v1h-1zM643 323h1v1h-1zM644 323h1v1h-1zM645 323h1v1h-1zM646 324h1v1h-1zM647 324h1v1h-1zM648 325h1v1h-1zM649 326h1v1h-1zM650 327h1v1h-1zM651 328h1v1h-1zM652 328h1v1h-1zM653 329h1v1h-1zM654 329h1v1h-1zM655 329h1v1h-1zM656 330h1v1h-1zM657 330h1v1h-1zM658 330h1v1h-1zM659 331h1v1h-1zM660 332h1v1h-1zM661 333h1v1h-1zM662 334h1v1h-1zM663 335h1v1h-1zM664 336h1v1h-1zM665 337h1v1h-1zM666 337h1v1h-1zM667 338h1v1h-1zM668 339h1v1h-1zM669 340h1v1h-1zM670 341h1v1h-1zM671 342h1v2h-1zM672 344h1v2h-1zM673 346h1v3h-1zM674 349h1v2h-1zM675 351h1v2h-1zM676 353h1v2h-1zM677 355h1v2h-1zM678 357h1v2h-1zM679 359h1v1h-1zM680 360h1v2h-1zM681 362h1v2h-1zM682 364h1v2h-1zM683 366h1v2h-1zM684 368h1v3h-1zM685 371h1v2h-1zM686 373h1v2h-1zM687 375h1v3h-1zM688 378h1v2h-1zM689 380h1v2h-1zM690 382h1v2h-1zM691 384h1v2h-1zM692 386h1v2h-1zM693 388h1v1h-1zM694 389h1v2h-1zM695 391h1v2h-1zM696 393h1v2h-1zM697 395h1v2h-1zM698 397h1v2h-1zM699 399h1v2h-1zM700 401h1v2h-1zM701 403h1v2h-1zM702 405h1v2h-1zM703 407h1v2h-1zM704 409h1v1h-1zM705 410h1v2h-1zM706 412h1v2h-1zM707 414h1v1h-1zM708 415h1v2h-1zM709 417h1v1h-1zM710 418h1v2h-1zM711 419h1v1h-1zM712 420h1v1h-1zM713 421h1v1h-1zM714 421h1v1h-1zM715 422h1v1h-1zM716 422h1v1h-1zM717 423h1v1h-1zM718 423h1v1h-1zM719 423h1v1h-1zM720 424h1v1h-1zM721 424h1v1h-1zM722 424h1v1h-1zM723 425h1v1h-1zM724 425h1v1h-1zM725 425h1v1h-1zM726 425h1v1h-1zM727 425h1v1h-1zM728 425h1v1h-1zM729 425h1v1h-1zM730 424h1v1h-1zM731 423h1v1h-1zM732 422h1v1h-1zM733 421h1v1h-1zM734 420h1v1h-1zM735 419h1v1h-1zM736 418h1v1h-1zM737 417h1v1h-1zM738 415h1v2h-1zM739 414h1v1h-1zM740 413h1v1h-1zM741 412h1v1h-1zM742 410h1v2h-1zM743 409h1v1h-1zM744 408h1v1h-1zM745 407h1v1h-1zM746 406h1v1h-1zM747 405h1v1h-1zM748 405h1v1h-1zM749 404h1v1h-1zM750 404h1v1h-1zM751 403h1v1h-1zM752 403h1v1h-1zM753 403h1v1h-1zM754 403h1v1h-1zM755 403h1v1h-1zM756 403h1v1h-1zM757 404h1v1h-1zM758 404h1v1h-1zM759 405h1v1h-1zM760 405h1v1h-1zM761 405h1v1h-1zM762 406h1v1h-1zM763 406h1v1h-1zM764 406h1v1h-1zM765 406h1v1h-1zM766 406h1v1h-1zM767 407h1v1h-1zM768 407h1v1h-1zM769 408h1v1h-1zM770 409h1v1h-1zM771 410h1v1h-1zM772 411h1v2h-1zM773 413h1v1h-1zM774 414h1v1h-1zM775 415h1v2h-1zM776 417h1v2h-1zM777 419h1v1h-1zM778 420h1v2h-1zM779 422h1v2h-1zM780 424h1v2h-1zM781 426h1v2h-1zM782 428h1v1h-1zM783 429h1v2h-1zM784 431h1v2h-1zM785 433h1v1h-1zM786 434h1v2h-1zM787 436h1v1h-1zM788 437h1v2h-1zM789 439h1v2h-1zM790 441h1v2h-1zM791 443h1v1h-1zM792 444h1v2h-1zM793 446h1v1h-1zM794 447h1v1h-1zM795 447h1v1h-1zM796 448h1v1h-1zM797 448h1v1h-1zM798 448h1v1h-1zM799 448h1v1h-1zM800 448h1v1h-1zM801 448h1v1h-1zM802 448h1v1h-1zM803 447h1v1h-1zM804 447h1v1h-1zM805 446h1v1h-1zM806 446h1v1h-1zM807 445h1v1h-1zM808 445h1v1h-1zM809 444h1v1h-1zM810 444h1v1h-1zM811 443h1v1h-1zM812 443h1v1h-1zM813 442h1v1h-1zM814 441h1v1h-1zM815 440h1v1h-1zM816 439h1v1h-1zM817 438h1v1h-1zM818 437h1v1h-1zM819 437h1v1h-1zM820 436h1v1h-1zM821 435h1v1h-1zM822 434h1v1h-1zM823 433h1v1h-1zM824 432h1v1h-1zM825 431h1v1h-1zM826 430h1v1h-1zM827 429h1v1h-1zM828 428h1v1h-1zM829 426h1v2h-1zM830 425h1v1h-1zM831 423h1v2h-1zM832 422h1v1h-1zM833 421h1v1h-1zM834 419h1v2h-1zM835 418h1v1h-1zM836 417h1v1h-1zM837 416h1v1h-1zM838 415h1v1h-1zM839 414h1v1h-1zM840 413h1v1h-1zM841 412h1v1h-1zM842 411h1v1h-1zM843 410h1v1h-1zM844 410h1v1h-1zM845 410h1v1h-1zM846 410h1v1h-1zM847 409h1v1h-1zM848 409h1v1h-1zM849 409h1v1h-1zM850 409h1v1h-1zM851 408h1v1h-1zM852 408h1v1h-1zM853 407h1v1h-1zM854 406h1v1h-1zM855 405h1v1h-1zM856 404h1v1h-1zM857 403h1v1h-1zM858 402h1v1h-1zM859 401h1v1h-1zM860 400h1v1h-1zM861 399h1v1h-1zM862 398h1v1h-1zM863 397h1v1h-1zM864 396h1v1h-1zM865 395h1v1h-1zM866 395h1v1h-1zM867 394h1v1h-1zM868 393h1v1h-1zM869 392h1v1h-1zM870 391h1v1h-1zM871 391h1v1h-1zM872 390h1v1h-1zM873 389h1v1h-1zM874 388h1v1h-1zM875 388h1v1h-1zM876 387h1v1h-1zM877 386h1v1h-1zM878 386h1v1h-1zM879 385h1v1h-1zM880 384h1v1h-1zM881 384h1v1h-1zM882 383h1v1h-1zM883 383h1v1h-1zM884 382h1v1h-1zM885 380h1v2h-1zM886 379h1v1h-1zM887 376h1v3h-1zM888 374h1v2h-1zM889 373h1v1h-1zM890 371h1v2h-1zM891 370h1v1h-1zM892 369h1v1h-1zM893 368h1v1h-1zM894 367h1v1h-1zM895 366h1v1h-1zM896 365h1v1h-1zM897 364h1v1h-1zM898 363h1v1h-1zM899 362h1v1h-1zM900 361h1v1h-1zM901 361h1v1h-1zM902 360h1v1h-1zM903 358h1v2h-1zM904 357h1v1h-1zM905 356h1v1h-1zM906 354h1v2h-1zM907 352h1v2h-1zM908 351h1v1h-1zM909 349h1v2h-1zM910 348h1v1h-1zM911 347h1v1h-1zM912 346h1v1h-1zM913 345h1v1h-1zM914 344h1v1h-1zM915 343h1v1h-1zM916 342h1v1h-1zM917 341h1v1h-1zM918 340h1v1h-1zM919 339h1v1h-1zM920 338h1v1h-1zM921 337h1v1h-1zM922 336h1v1h-1zM923 335h1v1h-1zM924 334h1v1h-1zM925 333h1v1h-1zM926 332h1v1h-1zM927 331h1v1h-1zM928 330h1v1h-1z" fill="#0000cd" />
<path d="M122 97h1v2h-1zM123 99h1v4h-1zM124 103h1v3h-1zM125 106h1v2h-1zM126 108h1v2h-1zM127 110h1v2h-1zM128 112h1v2h-1zM129 114h1v2h-1zM130 116h1v1h-1zM131 117h1v2h-1zM132 119h1v1h-1zM133 120h1v1h-1zM134 120h1v1h-1zM135 121h1v1h-1zM136 122h1v1h-1zM137 122h1v1h-1zM138 123h1v1h-1zM139 124h1v2h-1zM140 126h1v1h-1zM141 127h1v2h-1zM142 129h1v1h-1zM143 129h1v1h-1zM144 128h1v1h-1zM145 128h1v1h-1zM146 127h1v1h-1zM147 126h1v1h-1zM148 125h1v1h-1zM149 124h1v1h-1zM150 122h1v2h-1zM151 121h1v1h-1zM152 119h1v2h-1zM153 117h1v2h-1zM154 115h1v2h-1zM155 114h1v1h-1zM156 112h1v2h-1zM157 112h1v1h-1zM158 111h1v1h-1zM159 110h1v1h-1zM160 110h1v1h-1zM161 109h1v1h-1zM162 109h1v1h-1zM163 109h1v1h-1zM164 108h1v1h-1zM165 108h1v1h-1zM166 107h1v1h-1zM167 106h1v1h-1zM168 104h1v2h-1zM169 104h1v1h-1zM170 104h1v1h-1zM171 104h1v1h-1zM172 105h1v1h-1zM173 106h1v1h-1zM174 106h1v1h-1zM175 107h1v1h-1zM176 107h1v1h-1zM177 108h1v1h-1zM178 108h1v1h-1zM179 108h1v1h-1zM180 108h1v1h-1zM181 108h1v1h-1zM182 108h1v1h-1zM183 108h1v1h-1zM184 108h1v1h-1zM185 108h1v1h-1zM186 108h1v1h-1zM187 108h1v1h-1zM188 108h1v1h-1zM189 109h1v1h-1zM190 110h1v1h-1zM191 111h1v1h-1zM192 112h1v2h-1zM193 114h1v3h-1zM194 117h1v2h-1zM195 119h1v3h-1zM196 122h1v3h-1zM197 125h1v2h-1zM198 127h1v2h-1zM199 129h1v1h-1zM200 130h1v2h-1zM201 132h1v1h-1zM202 133h1v1h-1zM203 134h1v1h-1zM204 135h1v2h-1zM205 137h1v1h-1zM206 138h1v2h-1zM207 140h1v1h-1zM208 141h1v2h-1zM209 143h1v2h-1zM210 145h1v1h-1zM211 146h1v2h-1zM212 148h1v1h-1zM213 149h1v2h-1zM214 151h1v1h-1zM215 152h1v1h-1zM216 152h1v1h-1zM217 152h1v1h-1zM218 152h1v1h-1zM219 151h1v1h-1zM220 151h1v1h-1zM221 150h1v1h-1zM222 150h1v1h-1zM223 149h1v1h-1zM224 148h1v1h-1zM225 148h1v1h-1zM226 148h1v1h-1zM227 148h1v1h-1zM228 148h1v1h-1zM229 149h1v1h-1zM230 150h1v2h-1zM231 152h1v3h-1zM232 155h1v3h-1zM233 158h1v3h-1zM234 161h1v4h-1zM235 165h1v3h-1zM236 168h1v5h-1zM237 173h1v4h-1zM238 177h1v5h-1zM239 182h1v5h-1zM240 187h1v5h-1zM241 192h1v5h-1zM242 197h1v6h-1zM243 203h1v5h-1zM244 208h1v5h-1zM245 213h1v6h-1zM246 219h1v6h-1zM247 225h1v6h-1zM248 231h1v6h-1zM249 237h1v6h-1zM250 243h1v5h-1zM251 248h1v6h-1zM252 254h1v6h-1zM253 260h1v5h-1zM254 265h1v7h-1zM255 272h1v6h-1zM256 278h1v6h-1zM257 284h1v5h-1zM258 289h1v4h-1zM259 293h1v4h-1zM260 297h1v3h-1zM261 300h1v2h-1zM262 302h1v2h-1zM263 304h1v2h-1zM264 306h1v2h-1zM265 308h1v1h-1zM266 309h1v1h-1zM267 309h1v1h-1zM268 309h1v1h-1zM269 309h1v1h-1zM270 309h1v1h-1zM271 309h1v1h-1zM272 309h1v1h-1zM273 310h1v1h-1zM274 311h1v1h-1zM275 312h1v1h-1zM276 311h1v1h-1zM277 310h1v1h-1zM278 309h1v1h-1zM279 308h1v1h-1zM280 306h1v2h-1zM281 305h1v1h-1zM282 303h1v2h-1zM283 301h1v2h-1zM284 299h1v2h-1zM285 298h1v1h-1zM286 296h1v2h-1zM287 294h1v2h-1zM288 292h1v2h-1zM289 291h1v1h-1zM290 291h1v1h-1zM291 291h1v1h-1zM292 290h1v1h-1zM293 290h1v1h-1zM294 290h1v1h-1zM295 290h1v1h-1zM296 289h1v1h-1zM297 289h1v1h-1zM298 287h1v2h-1zM299 286h1v1h-1zM300 285h1v1h-1zM301 284h1v1h-1zM302 282h1v2h-1zM303 282h1v1h-1zM304 281h1v1h-1zM305 280h1v1h-1zM306 280h1v1h-1zM307 279h1v1h-1zM308 278h1v1h-1zM309 278h1v1h-1zM310 277h1v1h-1zM311 277h1v1h-1zM312 276h1v1h-1zM313 276h1v1h-1zM314 277h1v1h-1zM315 278h1v1h-1zM316 278h1v1h-1zM317 279h1v1h-1zM318 279h1v1h-1zM319 279h1v1h-1zM320 279h1v1h-1zM321 279h1v1h-1zM322 279h1v1h-1zM323 279h1v1h-1zM324 279h1v1h-1zM325 279h1v1h-1zM326 279h1v1h-1zM327 279h1v1h-1zM328 280h1v1h-1zM329 280h1v1h-1zM330 281h1v1h-1zM331 282h1v1h-1zM332 283h1v1h-1zM333 284h1v1h-1zM334 285h1v1h-1zM335 286h1v1h-1zM336 287h1v2h-1zM337 289h1v1h-1zM338 290h1v1h-1zM339 291h1v1h-1zM340 292h1v1h-1zM341 293h1v1h-1zM342 294h1v1h-1zM343 295h1v1h-1zM344 296h1v1h-1zM345 297h1v1h-1zM346 297h1v1h-1zM347 298h1v1h-1zM348 299h1v1h-1zM349 300h1v1h-1zM350 301h1v1h-1zM351 302h1v2h-1zM352 304h1v2h-1zM353 306h1v3h-1zM354 309h1v2h-1zM355 311h1v2h-1zM356 313h1v2h-1zM357 315h1v2h-1zM358 317h1v1h-1zM359 318h1v2h-1zM360 320h1v2h-1zM361 322h1v2h-1zM362 324h1v1h-1zM363 325h1v2h-1zM364 327h1v2h-1zM365 329h1v1h-1zM366 330h1v2h-1zM367 332h1v2h-1zM368 334h1v1h-1zM369 335h1v2h-1zM370 337h1v1h-1zM371 338h1v1h-1zM372 339h1v1h-1zM373 340h1v2h-1zM374 341h1v1h-1zM375 341h1v1h-1zM376 340h1v1h-1zM377 340h1v1h-1zM378 339h1v1h-1zM379 339h1v1h-1zM380 339h1v1h-1zM381 338h1v1h-1zM382 338h1v1h-1zM383 338h1v1h-1zM384 338h1v1h-1zM385 338h1v1h-1zM386 338h1v1h-1zM387 338h1v1h-1zM388 338h1v1h-1zM389 338h1v1h-1zM390 337h1v1h-1zM391 337h1v1h-1zM392 336h1v1h-1zM393 336h1v1h-1zM394 336h1v1h-1zM395 336h1v1h-1zM396 337h1v1h-1zM397 337h1v1h-1zM398 337h1v1h-1zM399 338h1v1h-1zM400 338h1v1h-1zM401 339h1v1h-1zM402 339h1v1h-1zM403 340h1v1h-1zM404 341h1v1h-1zM405 342h1v1h-1zM406 343h1v1h-1zM407 344h1v2h-1zM408 346h1v2h-1zM409 348h1v2h-1zM410 350h1v2h-1zM411 352h1v2h-1zM412 354h1v2h-1zM413 356h1v2h-1zM414 358h1v2h-1zM415 360h1v1h-1zM416 361h1v1h-1zM417 361h1v1h-1zM418 362h1v1h-1zM419 362h1v1h-1zM420 362h1v1h-1zM421 362h1v1h-1zM422 362h1v1h-1zM423 362h1v1h-1zM424 361h1v1h-1zM425 361h1v1h-1zM426 360h1v1h-1zM427 360h1v1h-1zM428 359h1v1h-1zM429 359h1v1h-1zM430 358h1v1h-1zM431 357h1v1h-1zM432 356h1v1h-1zM433 355h1v1h-1zM434 354h1v1h-1zM435 352h1v2h-1zM436 351h1v1h-1zM437 349h1v2h-1zM438 347h1v2h-1zM439 345h1v2h-1zM440 343h1v2h-1zM441 341h1v2h-1zM442 339h1v2h-1zM443 338h1v1h-1zM444 337h1v1h-1zM445 336h1v1h-1zM446 336h1v1h-1zM447 335h1v1h-1zM448 335h1v1h-1zM449 335h1v1h-1zM450 335h1v1h-1zM451 335h1v1h-1zM452 335h1v1h-1zM453 335h1v1h-1zM454 335h1v1h-1zM455 336h1v1h-1zM456 337h1v1h-1zM457 338h1v2h-1zM458 340h1v2h-1zM459 342h1v2h-1zM460 344h1v3h-1zM461 347h1v2h-1zM462 349h1v2h-1zM463 351h1v2h-1zM464 353h1v1h-1zM465 354h1v1h-1zM466 355h1v2h-1zM467 357h1v1h-1zM468 358h1v1h-1zM469 358h1v1h-1zM470 359h1v1h-1zM471 359h1v1h-1zM472 360h1v1h-1zM473 360h1v1h-1zM474 361h1v1h-1zM475 361h1v1h-1zM476 362h1v1h-1zM477 363h1v1h-1zM478 364h1v1h-1zM479 365h1v1h-1zM480 366h1v1h-1zM481 367h1v1h-1zM482 367h1v1h-1zM483 367h1v1h-1zM484 367h1v1h-1zM485 366h1v1h-1zM486 365h1v1h-1zM487 364h1v1h-1zM488 364h1v1h-1zM489 363h1v1h-1zM490 363h1v1h-1zM491 363h1v1h-1zM492 363h1v1h-1zM493 363h1v1h-1zM494 363h1v1h-1zM495 363h1v1h-1zM496 364h1v1h-1zM497 364h1v1h-1zM498 365h1v1h-1zM499 366h1v2h-1zM500 368h1v1h-1zM501 369h1v1h-1zM502 370h1v2h-1zM503 371h1v1h-1zM504 372h1v1h-1zM505 372h1v1h-1zM506 373h1v1h-1zM507 373h1v1h-1zM508 374h1v1h-1zM509 374h1v1h-1zM510 375h1v1h-1zM511 375h1v1h-1zM512 376h1v1h-1zM513 377h1v1h-1zM514 378h1v1h-1zM515 379h1v1h-1zM516 380h1v1h-1zM517 381h1v1h-1zM518 381h1v1h-1zM519 382h1v1h-1zM520 383h1v1h-1zM521 384h1v1h-1zM522 385h1v1h-1zM523 386h1v1h-1zM524 386h1v1h-1zM525 387h1v1h-1zM526 387h1v1h-1zM527 387h1v1h-1zM528 386h1v1h-1zM529 386h1v1h-1zM530 386h1v1h-1zM531 386h1v1h-1zM532 386h1v1h-1zM533 386h1v1h-1zM534 386h1v1h-1zM535 386h1v1h-1zM536 386h1v1h-1zM537 386h1v1h-1zM538 387h1v1h-1zM539 387h1v1h-1zM540 387h1v1h-1zM541 387h1v1h-1zM542 387h1v1h-1zM543 387h1v1h-1zM544 387h1v1h-1zM545 387h1v1h-1zM546 387h1v1h-1zM547 387h1v1h-1zM548 387h1v1h-1zM549 387h1v1h-1zM550 388h1v1h-1zM551 388h1v1h-1zM552 389h1v1h-1zM553 390h1v1h-1zM554 390h1v1h-1zM555 391h1v1h-1zM556 391h1v1h-1zM557 392h1v1h-1zM558 392h1v1h-1zM559 392h1v1h-1zM560 392h1v1h-1zM561 392h1v1h-1zM562 392h1v1h-1zM563 392h1v1h-1zM564 392h1v1h-1zM565 392h1v1h-1zM566 392h1v1h-1zM567 392h1v1h-1zM568 391h1v1h-1zM569 391h1v1h-1zM570 390h1v1h-1zM571 389h1v1h-1zM572 388h1v1h-1zM573 387h1v1h-1zM574 386h1v1h-1zM575 385h1v1h-1zM576 383h1v2h-1zM577 381h1v2h-1zM578 380h1v1h-1zM579 378h1v2h-1zM580 377h1v1h-1zM581 376h1v1h-1zM582 375h1v1h-1zM583 374h1v1h-1zM584 373h1v1h-1zM585 372h1v1h-1zM586 371h1v1h-1zM587 370h1v1h-1zM588 370h1v1h-1zM589 369h1v1h-1zM590 369h1v1h-1zM591 368h1v1h-1zM592 367h1v1h-1zM593 366h1v1h-1zM594 365h1v1h-1zM595 363h1v2h-1zM596 361h1v2h-1zM597 359h1v2h-1zM598 357h1v2h-1zM599 355h1v2h-1zM600 352h1v3h-1zM601 350h1v2h-1zM602 348h1v2h-1zM603 346h1v2h-1zM604 345h1v1h-1zM605 343h1v2h-1zM606 342h1v1h-1zM607 340h1v2h-1zM608 339h1v1h-1zM609 337h1v2h-1zM610 336h1v1h-1zM611 334h1v2h-1zM612 332h1v2h-1zM613 330h1v2h-1zM614 329h1v1h-1zM615 327h1v2h-1zM616 326h1v1h-1zM617 325h1v1h-1zM618 324h1v1h-1zM619 322h1v2h-1zM620 322h1v1h-1zM621 321h1v1h-1zM622 320h1v1h-1zM623 320h1v1h-1zM624 320h1v1h-1zM625 320h1v1h-1zM626 320h1v1h-1zM627 321h1v1h-1zM628 321h1v1h-1zM629 321h1v1h-1zM630 321h1v1h-1zM631 322h1v1h-1zM632 322h1v1h-1zM633 323h1v1h-1zM634 323h1v1h-1zM635 323h1v1h-1zM636 324h1v1h-1zM637 324h1v1h-1zM638 324h1v1h-1zM639 324h1v1h-1zM640 324h1v1h-1zM641 324h1v1h-1zM642 324h1v1h-1zM643 324h1v1h-1zM644 324h1v1h-1zM645 324h1v1h-1zM646 325h1v1h-1zM647 325h1v1h-1zM648 326h1v1h-1zM649 327h1v1h-1zM650 327h1v1h-1zM651 328h1v1h-1zM652 329h1v1h-1zM653 330h1v2h-1zM654 332h1v1h-1zM655 333h1v1h-1zM656 334h1v1h-1zM657 335h1v1h-1zM658 335h1v1h-1zM659 336h1v1h-1zM660 337h1v1h-1zM661 338h1v1h-1zM662 339h1v1h-1zM663 340h1v1h-1zM664 341h1v1h-1zM665 342h1v1h-1zM666 343h1v1h-1zM667 344h1v1h-1zM668 345h1v1h-1zM669 346h1v3h-1zM670 349h1v2h-1zM671 351h1v3h-1zM672 354h1v2h-1zM673 356h1v3h-1zM674 359h1v3h-1zM675 362h1v3h-1zM676 365h1v2h-1zM677 367h1v2h-1zM678 369h1v2h-1zM679 371h1v2h-1zM680 373h1v2h-1zM681 375h1v2h-1zM682 377h1v2h-1zM683 379h1v3h-1zM684 382h1v3h-1zM685 385h1v3h-1zM686 388h1v2h-1zM687 390h1v3h-1zM688 393h1v3h-1zM689 396h1v3h-1zM690 399h1v2h-1zM691 401h1v3h-1zM692 404h1v2h-1zM693 406h1v3h-1zM694 409h1v2h-1zM695 411h1v2h-1zM696 413h1v2h-1zM697 415h1v2h-1zM698 417h1v1h-1zM699 418h1v2h-1zM700 420h1v1h-1zM701 421h1v1h-1zM702 422h1v1h-1zM703 423h1v1h-1zM704 424h1v1h-1zM705 425h1v1h-1zM706 425h1v1h-1zM707 426h1v1h-1zM708 426h1v1h-1zM709 427h1v1h-1zM710 427h1v1h-1zM711 427h1v1h-1zM712 428h1v1h-1zM713 428h1v1h-1zM714 428h1v1h-1zM715 428h1v1h-1zM716 427h1v1h-1zM717 427h1v1h-1zM718 427h1v1h-1zM719 427h1v1h-1zM720 427h1v1h-1zM721 427h1v1h-1zM722 427h1v1h-1zM723 426h1v1h-1zM724 426h1v1h-1zM725 426h1v1h-1zM726 426h1v1h-1zM727 425h1v1h-1zM728 425h1v1h-1zM729 424h1v1h-1zM730 423h1v1h-1zM731 422h1v1h-1zM732 420h1v2h-1zM733 418h1v2h-1zM734 416h1v2h-1zM735 414h1v2h-1zM736 412h1v2h-1zM737 411h1v1h-1zM738 409h1v2h-1zM739 408h1v1h-1zM740 407h1v1h-1zM741 406h1v1h-1zM742 404h1v2h-1zM743 403h1v1h-1zM744 402h1v1h-1zM745 401h1v1h-1zM746 399h1v2h-1zM747 398h1v1h-1zM748 397h1v1h-1zM749 396h1v1h-1zM750 395h1v1h-1zM751 394h1v1h-1zM752 394h1v1h-1zM753 394h1v1h-1zM754 394h1v1h-1zM755 394h1v1h-1zM756 394h1v1h-1zM757 394h1v1h-1zM758 395h1v1h-1zM759 396h1v1h-1zM760 397h1v3h-1zM761 400h1v2h-1zM762 402h1v2h-1zM763 404h1v2h-1zM764 406h1v2h-1zM765 408h1v2h-1zM766 410h1v2h-1zM767 412h1v2h-1zM768 414h1v2h-1zM769 416h1v3h-1zM770 419h1v2h-1zM771 421h1v2h-1zM772 423h1v3h-1zM773 426h1v2h-1zM774 428h1v2h-1zM775 430h1v2h-1zM776 432h1v2h-1zM777 434h1v2h-1zM778 436h1v2h-1zM779 438h1v2h-1zM780 440h1v2h-1zM781 442h1v1h-1zM782 443h1v1h-1zM783 444h1v2h-1zM784 446h1v1h-1zM785 447h1v1h-1zM786 448h1v1h-1zM787 449h1v1h-1zM788 450h1v2h-1zM789 451h1v1h-1zM790 452h1v1h-1zM791 453h1v1h-1zM792 453h1v1h-1zM793 454h1v1h-1zM794 454h1v1h-1zM795 454h1v1h-1zM796 454h1v1h-1zM797 454h1v1h-1zM798 454h1v1h-1zM799 454h1v1h-1zM800 454h1v1h-1zM801 453h1v1h-1zM802 452h1v1h-1zM803 450h1v2h-1zM804 449h1v1h-1zM805 447h1v2h-1zM806 446h1v1h-1zM807 444h1v2h-1zM808 442h1v2h-1zM809 440h1v2h-1zM810 438h1v2h-1zM811 437h1v1h-1zM812 435h1v2h-1zM813 433h1v2h-1zM814 432h1v1h-1zM815 430h1v2h-1zM816 429h1v1h-1zM817 428h1v1h-1zM818 427h1v1h-1zM819 426h1v1h-1zM820 425h1v1h-1zM821 424h1v1h-1zM822 423h1v1h-1zM823 422h1v1h-1zM824 421h1v1h-1zM825 420h1v1h-1zM826 419h1v1h-1zM827 418h1v1h-1zM828 417h1v1h-1zM829 416h1v1h-1zM830 415h1v1h-1zM831 414h1v1h-1zM832 413h1v1h-1zM833 412h1v1h-1zM834 412h1v1h-1zM835 411h1v1h-1zM836 411h1v1h-1zM837 410h1v1h-1zM838 409h1v1h-1zM839 409h1v1h-1zM840 409h1v1h-1zM841 408h1v1h-1zM842 408h1v1h-1zM843 408h1v1h-1zM844 408h1v1h-1zM845 407h1v1h-1zM846 407h1v1h-1zM847 406h1v1h-1zM848 406h1v1h-1zM849 405h1v1h-1zM850 404h1v1h-1zM851 403h1v1h-1zM852 402h1v1h-1zM853 402h1v1h-1zM854 401h1v1h-1zM855 400h1v1h-1zM856 399h1v1h-1zM857 398h1v1h-1zM858 398h1v1h-1zM859 397h1v1h-1zM860 396h1v1h-1zM861 396h1v1h-1zM862 395h1v1h-1zM863 394h1v1h-1zM864 393h1v1h-1zM865 392h1v1h-1zM866 391h1v1h-1zM867 390h1v1h-1zM868 389h1v1h-1zM869 388h1v1h-1zM870 386h1v2h-1zM871 385h1v1h-1zM872 383h1v2h-1zM873 382h1v1h-1zM874 380h1v2h-1zM875 379h1v1h-1zM876 378h1v1h-1zM877 377h1v1h-1zM878 376h1v1h-1zM879 376h1v1h-1zM880 375h1v1h-1zM881 374h1v1h-1zM882 373h1v1h-1zM883 373h1v1h-1zM884 372h1v1h-1zM885 371h1v1h-1zM886 371h1v1h-1zM887 370h1v1h-1zM888 368h1v2h-1zM889 367h1v1h-1zM890 366h1v1h-1zM891 364h1v2h-1zM892 363h1v1h-1zM893 362h1v1h-1zM894 361h1v1h-1zM895 360h1v1h-1zM896 359h1v1h-1zM897 359h1v1h-1zM898 358h1v1h-1zM899 357h1v1h-1zM900 356h1v1h-1zM901 355h1v1h-1zM902 354h1v1h-1zM903 352h1v2h-1zM904 350h1v2h-1zM905 348h1v2h-1zM906 345h1v3h-1zM907 343h1v2h-1zM908 341h1v2h-1zM909 339h1v2h-1zM910 337h1v2h-1zM911 335h1v2h-1zM912 334h1v1h-1zM913 333h1v1h-1zM914 332h1v1h-1zM915 331h1v1h-1zM916 330h1v1h-1zM917 330h1v1h-1zM918 329h1v1h-1zM919 328h1v1h-1zM920 327h1v1h-1zM921 327h1v1h-1zM922 326h1v1h-1zM923 326h1v1h-1zM924 325h1v1h-1zM925 325h1v1h-1zM926 324h1v1h-1zM927 324h1v1h-1zM928 324h1v1h-1zM929 324h1v1h-1z" fill="#ff0000" />
<rect x="929" y="325" width="1" height="3" fill="#ff0000"/>
</g>
<rect x="5" y="162" width="1162" height="2" fill="#ff0000"/>
<rect x="5" y="233" width="1162" height="2" fill="#ff0000"/>
<rect x="5" y="305" width="1162" height="2" fill="#ff0000"/>
<rect x="5" y="373" width="1162" height="2" fill="#00ff00"/>
<rect x="5" y="446" width="1162" height="2" fill="#0000ff"/>
<rect x="4" y="160" width="6" height="6" fill="#ff0000"/><rect x="6" y="162" width="2" height="2" fill="#fff"/>
<rect x="1161" y="160" width="6" height="6" fill="#ff0000"/><rect x="1163" y="162" width="2" height="2" fill="#fff"/>
<rect x="4" y="231" width="6" height="6" fill="#ff0000"/><rect x="6" y="233" width="2" height="2" fill="#fff"/>
<rect x="1161" y="231" width="6" height="6" fill="#ff0000"/><rect x="1163" y="233" width="2" height="2" fill="#fff"/>
<rect x="4" y="303" width="6" height="6" fill="#ff0000"/><rect x="6" y="305" width="2" height="2" fill="#fff"/>
<rect x="1161" y="303" width="6" height="6" fill="#ff0000"/><rect x="1163" y="305" width="2" height="2" fill="#fff"/>
<rect x="4" y="371" width="6" height="6" fill="#00ff00"/><rect x="6" y="373" width="2" height="2" fill="#fff"/>
<rect x="1161" y="371" width="6" height="6" fill="#00ff00"/><rect x="1163" y="373" width="2" height="2" fill="#fff"/>
<rect x="1168" y="52" width="2" height="1" fill="#000"/>
<rect x="1168" y="85" width="2" height="1" fill="#000"/>
<rect x="1168" y="118" width="2" height="1" fill="#000"/>
<rect x="1168" y="151" width="2" height="1" fill="#000"/>
<rect x="1168" y="184" width="2" height="1" fill="#000"/>
<rect x="1168" y="217" width="2" height="1" fill="#000"/>
<rect x="1168" y="250" width="2" height="1" fill="#000"/>
<rect x="1168" y="283" width="2" height="1" fill="#000"/>
<rect x="1168" y="316" width="2" height="1" fill="#000"/>
<rect x="1168" y="349" width="2" height="1" fill="#000"/>
<rect x="1168" y="382" width="2" height="1" fill="#000"/>
<rect x="1168" y="415" width="2" height="1" fill="#000"/>
<rect x="1168" y="448" width="2" height="1" fill="#000"/>
<rect x="1168" y="481" width="2" height="1" fill="#000"/>
<rect x="1168" y="511" width="2" height="1" fill="#000"/>
<rect x="1168" y="488" width="1" height="1" fill="#000"/>
<rect x="1168" y="569" width="1" height="1" fill="#000"/>
<rect x="1168" y="574" width="1" height="1" fill="#000"/>
<rect x="1168" y="658" width="1" height="1" fill="#000"/>
<rect x="5" y="660" width="1" height="3" fill="#000"/>
<rect x="69" y="660" width="1" height="3" fill="#000"/>
<rect x="133" y="660" width="1" height="3" fill="#000"/>
<rect x="197" y="660" width="1" height="3" fill="#000"/>
<rect x="261" y="660" width="1" height="3" fill="#000"/>
<rect x="325" y="660" width="1" height="3" fill="#000"/>
<rect x="389" y="660" width="1" height="3" fill="#000"/>
<rect x="453" y="660" width="1" height="3" fill="#000"/>
<rect x="517" y="660" width="1" height="3" fill="#000"/>
<rect x="581" y="660" width="1" height="3" fill="#000"/>
<rect x="645" y="660" width="1" height="3" fill="#000"/>
<rect x="709" y="660" width="1" height="3" fill="#000"/>
<rect x="773" y="660" width="1" height="3" fill="#000"/>
<rect x="837" y="660" width="1" height="3" fill="#000"/>
<rect x="901" y="660" width="1" height="3" fill="#000"/>
<path d="M5 496h2v15h-2zM7 498h2v13h-2zM9 499h2v12h-2zM11 501h2v10h-2zM13 503h2v8h-2zM15 505h2v6h-2zM17 507h2v4h-2zM19 507h2v4h-2zM21 506h2v5h-2zM23 505h2v6h-2zM25 505h2v6h-2zM27 504h2v7h-2zM29 503h2v8h-2zM31 503h2v8h-2zM33 502h2v9h-2zM35 502h2v9h-2zM37 501h2v10h-2zM39 501h2v10h-2zM41 501h2v10h-2zM43 500h2v11h-2zM45 500h2v11h-2zM47 500h2v11h-2zM49 500h2v11h-2zM51 506h2v5h-2zM53 510h2v1h-2zM55 511h2v1h-2zM57 511h2v2h-2zM59 511h2v3h-2zM61 511h2v4h-2zM63 511h2v5h-2zM65 511h2v6h-2zM67 511h2v8h-2zM69 511h2v9h-2zM71 511h2v9h-2zM73 511h2v9h-2zM75 511h2v8h-2zM77 511h2v7h-2zM79 511h2v6h-2zM81 511h2v4h-2zM83 511h2v3h-2zM85 511h2v1h-2zM87 509h2v2h-2zM89 508h2v3h-2zM91 507h2v4h-2zM93 506h2v5h-2zM95 505h2v6h-2zM97 505h2v6h-2zM99 504h2v7h-2zM101 506h2v5h-2zM103 507h2v4h-2zM105 509h2v2h-2zM107 510h2v1h-2zM109 511h2v1h-2zM111 511h2v1h-2zM113 511h2v2h-2zM115 511h2v2h-2zM117 511h2v4h-2zM119 511h2v8h-2zM121 511h2v12h-2zM123 511h2v16h-2zM125 511h2v20h-2zM127 511h2v21h-2zM129 511h2v19h-2zM131 511h2v17h-2zM133 511h2v16h-2zM135 511h2v14h-2zM137 511h2v13h-2zM139 511h2v12h-2zM141 511h2v10h-2zM143 511h2v8h-2zM145 511h2v7h-2zM147 511h2v5h-2zM149 511h2v4h-2zM151 511h2v3h-2zM153 511h2v2h-2zM155 511h2v2h-2zM157 511h2v2h-2zM159 511h2v1h-2zM161 511h2v1h-2zM163 510h2v1h-2zM165 509h2v2h-2zM167 509h2v2h-2zM169 509h2v2h-2zM171 510h2v1h-2zM173 511h2v1h-2zM175 511h2v1h-2zM177 511h2v2h-2zM179 511h2v2h-2zM181 511h2v3h-2zM183 511h2v3h-2zM185 511h2v4h-2zM187 511h2v5h-2zM189 511h2v7h-2zM191 511h2v9h-2zM193 511h2v12h-2zM195 511h2v15h-2zM197 511h2v17h-2zM199 511h2v17h-2zM201 511h2v17h-2zM203 511h2v17h-2zM205 511h2v16h-2zM207 511h2v16h-2zM209 511h2v15h-2zM211 511h2v14h-2zM213 511h2v14h-2zM215 511h2v13h-2zM217 511h2v12h-2zM219 511h2v12h-2zM221 511h2v11h-2zM223 511h2v11h-2zM225 511h2v11h-2zM227 511h2v12h-2zM229 511h2v12h-2zM231 511h2v15h-2zM233 511h2v22h-2zM235 511h2v29h-2zM237 511h2v36h-2zM239 511h2v42h-2zM241 511h2v46h-2zM243 511h2v49h-2zM245 511h2v51h-2zM247 511h2v53h-2zM249 511h2v54h-2zM251 511h2v56h-2zM253 511h2v57h-2zM255 511h2v57h-2zM257 511h2v56h-2zM259 511h2v54h-2zM261 511h2v52h-2zM263 511h2v47h-2zM265 511h2v42h-2zM267 511h2v39h-2zM269 511h2v37h-2zM271 511h2v35h-2zM273 511h2v32h-2zM275 511h2v29h-2zM277 511h2v25h-2zM279 511h2v22h-2zM281 511h2v19h-2zM283 511h2v15h-2zM285 511h2v13h-2zM287 511h2v11h-2zM289 511h2v10h-2zM291 511h2v10h-2zM293 511h2v9h-2zM295 511h2v9h-2zM297 511h2v8h-2zM299 511h2v7h-2zM301 511h2v7h-2zM303 511h2v5h-2zM305 511h2v5h-2zM307 511h2v4h-2zM309 511h2v3h-2zM311 511h2v3h-2zM313 511h2v3h-2zM315 511h2v3h-2zM317 511h2v3h-2zM319 511h2v3h-2zM321 511h2v3h-2zM323 511h2v4h-2zM325 511h2v4h-2zM327 511h2v5h-2zM329 511h2v6h-2zM331 511h2v7h-2zM333 511h2v8h-2zM335 511h2v9h-2zM337 511h2v10h-2zM339 511h2v11h-2zM341 511h2v13h-2zM343 511h2v14h-2zM345 511h2v15h-2zM347 511h2v17h-2zM349 511h2v18h-2zM351 511h2v19h-2zM353 511h2v20h-2zM355 511h2v20h-2zM357 511h2v20h-2zM359 511h2v19h-2zM361 511h2v19h-2zM363 511h2v19h-2zM365 511h2v18h-2zM367 511h2v18h-2zM369 511h2v18h-2zM371 511h2v17h-2zM373 511h2v16h-2zM375 511h2v15h-2zM377 511h2v13h-2zM379 511h2v12h-2zM381 511h2v11h-2zM383 511h2v10h-2zM385 511h2v9h-2zM387 511h2v8h-2zM389 511h2v7h-2zM391 511h2v7h-2zM393 511h2v7h-2zM395 511h2v8h-2zM397 511h2v9h-2zM399 511h2v10h-2zM401 511h2v12h-2zM403 511h2v13h-2zM405 511h2v15h-2zM407 511h2v16h-2zM409 511h2v16h-2zM411 511h2v17h-2zM413 511h2v17h-2zM415 511h2v16h-2zM417 511h2v14h-2zM419 511h2v12h-2zM421 511h2v10h-2zM423 511h2v8h-2zM425 511h2v7h-2zM427 511h2v5h-2zM429 511h2v3h-2zM431 511h2v1h-2zM433 509h2v2h-2zM435 508h2v3h-2zM437 508h2v3h-2zM439 508h2v3h-2zM441 508h2v3h-2zM443 508h2v3h-2zM445 508h2v3h-2zM447 508h2v3h-2zM449 508h2v3h-2zM451 508h2v3h-2zM453 509h2v2h-2zM455 511h2v1h-2zM457 511h2v4h-2zM459 511h2v8h-2zM461 511h2v11h-2zM463 511h2v12h-2zM465 511h2v13h-2zM467 511h2v12h-2zM469 511h2v10h-2zM471 511h2v8h-2zM473 511h2v7h-2zM475 511h2v6h-2zM477 511h2v6h-2zM479 511h2v6h-2zM481 511h2v6h-2zM483 511h2v6h-2zM485 511h2v7h-2zM487 511h2v7h-2zM489 511h2v7h-2zM491 511h2v8h-2zM493 511h2v8h-2zM495 511h2v8h-2zM497 511h2v9h-2zM499 511h2v10h-2zM501 511h2v10h-2zM503 511h2v10h-2zM505 511h2v10h-2zM507 511h2v9h-2zM509 511h2v9h-2zM511 511h2v9h-2zM513 511h2v9h-2zM515 511h2v9h-2zM517 511h2v10h-2zM519 511h2v11h-2zM521 511h2v11h-2zM523 511h2v11h-2zM525 511h2v10h-2zM527 511h2v10h-2zM529 511h2v9h-2zM531 511h2v8h-2zM533 511h2v7h-2zM535 511h2v6h-2zM537 511h2v5h-2zM539 511h2v5h-2zM541 511h2v6h-2zM543 511h2v7h-2zM545 511h2v8h-2zM547 511h2v8h-2zM549 511h2v9h-2zM551 511h2v9h-2zM553 511h2v9h-2zM555 511h2v9h-2zM557 511h2v8h-2zM559 511h2v7h-2zM561 511h2v5h-2zM563 511h2v3h-2zM565 511h2v1h-2zM567 510h2v1h-2zM569 509h2v2h-2zM571 509h2v2h-2zM573 508h2v3h-2zM575 507h2v4h-2zM577 506h2v5h-2zM579 505h2v6h-2zM581 504h2v7h-2zM583 504h2v7h-2zM585 505h2v6h-2zM587 506h2v5h-2zM589 506h2v5h-2zM591 503h2v8h-2zM593 501h2v10h-2zM595 499h2v12h-2zM597 497h2v14h-2zM599 495h2v16h-2zM601 493h2v18h-2zM603 493h2v18h-2zM605 492h2v19h-2zM607 492h2v19h-2zM609 491h2v20h-2zM611 492h2v19h-2zM613 494h2v17h-2zM615 496h2v15h-2zM617 497h2v14h-2zM619 497h2v14h-2zM621 498h2v13h-2zM623 498h2v13h-2zM625 499h2v12h-2zM627 500h2v11h-2zM629 501h2v10h-2zM631 502h2v9h-2zM633 502h2v9h-2zM635 503h2v8h-2zM637 504h2v7h-2zM639 505h2v6h-2zM641 506h2v5h-2zM643 506h2v5h-2zM645 507h2v4h-2zM647 508h2v3h-2zM649 510h2v1h-2zM651 511h2v2h-2zM653 511h2v3h-2zM655 511h2v5h-2zM657 511h2v5h-2zM659 511h2v6h-2zM661 511h2v7h-2zM663 511h2v7h-2zM665 511h2v8h-2zM667 511h2v10h-2zM669 511h2v13h-2zM671 511h2v16h-2zM673 511h2v18h-2zM675 511h2v20h-2zM677 511h2v22h-2zM679 511h2v23h-2zM681 511h2v24h-2zM683 511h2v25h-2zM685 511h2v26h-2zM687 511h2v27h-2zM689 511h2v27h-2zM691 511h2v27h-2zM693 511h2v27h-2zM695 511h2v27h-2zM697 511h2v27h-2zM699 511h2v26h-2zM701 511h2v26h-2zM703 511h2v25h-2zM705 511h2v24h-2zM707 511h2v22h-2zM709 511h2v20h-2zM711 511h2v19h-2zM713 511h2v17h-2zM715 511h2v16h-2zM717 511h2v14h-2zM719 511h2v13h-2zM721 511h2v12h-2zM723 511h2v11h-2zM725 511h2v11h-2zM727 511h2v9h-2zM729 511h2v7h-2zM731 511h2v4h-2zM733 510h2v1h-2zM735 508h2v3h-2zM737 507h2v4h-2zM739 506h2v5h-2zM741 506h2v5h-2zM743 506h2v5h-2zM745 506h2v5h-2zM747 506h2v5h-2zM749 506h2v5h-2zM751 507h2v4h-2zM753 509h2v2h-2zM755 511h2v1h-2zM757 511h2v4h-2zM759 511h2v6h-2zM761 511h2v8h-2zM763 511h2v10h-2zM765 511h2v11h-2zM767 511h2v13h-2zM769 511h2v14h-2zM771 511h2v16h-2zM773 511h2v17h-2zM775 511h2v17h-2zM777 511h2v17h-2zM779 511h2v17h-2zM781 511h2v17h-2zM783 511h2v17h-2zM785 511h2v17h-2zM787 511h2v16h-2zM789 511h2v16h-2zM791 511h2v15h-2zM793 511h2v15h-2zM795 511h2v14h-2zM797 511h2v12h-2zM799 511h2v9h-2zM801 511h2v6h-2zM803 511h2v3h-2zM805 510h2v1h-2zM807 509h2v2h-2zM809 508h2v3h-2zM811 508h2v3h-2zM813 507h2v4h-2zM815 507h2v4h-2zM817 506h2v5h-2zM819 505h2v6h-2zM821 505h2v6h-2zM823 505h2v6h-2zM825 504h2v7h-2zM827 504h2v7h-2zM829 503h2v8h-2zM831 502h2v9h-2zM833 502h2v9h-2zM835 501h2v10h-2zM837 502h2v9h-2zM839 503h2v8h-2zM841 503h2v8h-2zM843 503h2v8h-2zM845 503h2v8h-2zM847 503h2v8h-2zM849 502h2v9h-2zM851 502h2v9h-2zM853 502h2v9h-2zM855 501h2v10h-2zM857 500h2v11h-2zM859 499h2v12h-2zM861 499h2v12h-2zM863 498h2v13h-2zM865 497h2v14h-2zM867 497h2v14h-2zM869 496h2v15h-2zM871 496h2v15h-2zM873 496h2v15h-2zM875 496h2v15h-2zM877 497h2v14h-2zM879 498h2v13h-2zM881 498h2v13h-2zM883 498h2v13h-2zM885 498h2v13h-2zM887 497h2v14h-2zM889 497h2v14h-2zM891 496h2v15h-2zM893 496h2v15h-2zM895 496h2v15h-2zM897 496h2v15h-2zM899 495h2v16h-2zM901 494h2v17h-2zM903 493h2v18h-2zM905 492h2v19h-2zM907 492h2v19h-2zM909 492h2v19h-2zM911 492h2v19h-2zM913 492h2v19h-2zM915 492h2v19h-2zM917 494h2v17h-2zM919 495h2v16h-2zM921 496h2v15h-2zM923 497h2v14h-2zM925 498h2v13h-2zM927 499h2v12h-2zM929 500h2v11h-2z" fill="#c0c0c0"/>
<path d="M4 495h1v1h-1zM5 495h1v1h-1zM6 496h1v1h-1zM7 496h1v1h-1zM8 497h1v1h-1zM9 497h1v1h-1zM10 498h1v1h-1zM11 498h1v1h-1zM12 499h1v1h-1zM13 499h1v1h-1zM14 499h1v1h-1zM15 500h1v1h-1zM16 500h1v1h-1zM17 501h1v1h-1zM18 501h1v1h-1zM19 502h1v1h-1zM20 502h1v1h-1zM21 502h1v1h-1zM22 503h1v1h-1zM23 503h1v1h-1zM24 503h1v1h-1zM25 504h1v1h-1zM26 504h1v1h-1zM27 504h1v1h-1zM28 504h1v1h-1zM29 505h1v1h-1zM30 505h1v1h-1zM31 505h1v1h-1zM32 505h1v1h-1zM33 505h1v1h-1zM34 505h1v1h-1zM35 504h1v1h-1zM36 504h1v1h-1zM37 503h1v1h-1zM38 503h1v1h-1zM39 502h1v1h-1zM40 502h1v1h-1zM41 502h1v1h-1zM42 501h1v1h-1zM43 501h1v1h-1zM44 501h1v1h-1zM45 501h1v1h-1zM46 501h1v1h-1zM47 500h1v1h-1zM48 500h1v1h-1zM49 500h1v1h-1zM50 501h1v1h-1zM51 501h1v1h-1zM52 501h1v1h-1zM53 502h1v1h-1zM54 503h1v1h-1zM55 503h1v1h-1zM56 504h1v1h-1zM57 505h1v1h-1zM58 506h1v1h-1zM59 507h1v1h-1zM60 507h1v1h-1zM61 508h1v1h-1zM62 509h1v1h-1zM63 510h1v1h-1zM64 511h1v1h-1zM65 512h1v1h-1zM66 512h1v1h-1zM67 513h1v1h-1zM68 514h1v1h-1zM69 514h1v1h-1zM70 515h1v1h-1zM71 515h1v1h-1zM72 515h1v1h-1zM73 516h1v1h-1zM74 516h1v1h-1zM75 516h1v1h-1zM76 516h1v1h-1zM77 516h1v1h-1zM78 516h1v1h-1zM79 516h1v1h-1zM80 516h1v1h-1zM81 516h1v1h-1zM82 516h1v1h-1zM83 516h1v1h-1zM84 516h1v1h-1zM85 515h1v1h-1zM86 515h1v1h-1zM87 514h1v1h-1zM88 513h1v1h-1zM89 513h1v1h-1zM90 512h1v1h-1zM91 511h1v1h-1zM92 511h1v1h-1zM93 510h1v1h-1zM94 510h1v1h-1zM95 509h1v1h-1zM96 509h1v1h-1zM97 508h1v1h-1zM98 508h1v1h-1zM99 507h1v1h-1zM100 507h1v1h-1zM101 507h1v1h-1zM102 507h1v1h-1zM103 507h1v1h-1zM104 507h1v1h-1zM105 507h1v1h-1zM106 507h1v1h-1zM107 507h1v1h-1zM108 507h1v1h-1zM109 507h1v1h-1zM110 507h1v1h-1zM111 508h1v1h-1zM112 508h1v1h-1zM113 508h1v1h-1zM114 508h1v1h-1zM115 509h1v1h-1zM116 509h1v1h-1zM117 510h1v1h-1zM118 510h1v1h-1zM119 511h1v1h-1zM120 512h1v1h-1zM121 513h1v1h-1zM122 514h1v1h-1zM123 515h1v1h-1zM124 516h1v1h-1zM125 517h1v1h-1zM126 518h1v1h-1zM127 519h1v1h-1zM128 520h1v1h-1zM129 521h1v1h-1zM130 522h1v1h-1zM131 523h1v1h-1zM132 524h1v1h-1zM133 524h1v1h-1zM134 525h1v1h-1zM135 525h1v1h-1zM136 525h1v1h-1zM137 526h1v1h-1zM138 526h1v1h-1zM139 526h1v1h-1zM140 526h1v1h-1zM141 526h1v1h-1zM142 526h1v1h-1zM143 525h1v1h-1zM144 524h1v1h-1zM145 524h1v1h-1zM146 523h1v1h-1zM147 522h1v1h-1zM148 522h1v1h-1zM149 521h1v1h-1zM150 520h1v1h-1zM151 519h1v1h-1zM152 518h1v1h-1zM153 517h1v1h-1zM154 517h1v1h-1zM155 516h1v1h-1zM156 515h1v1h-1zM157 515h1v1h-1zM158 514h1v1h-1zM159 514h1v1h-1zM160 514h1v1h-1zM161 513h1v1h-1zM162 513h1v1h-1zM163 513h1v1h-1zM164 512h1v1h-1zM165 512h1v1h-1zM166 512h1v1h-1zM167 511h1v1h-1zM168 511h1v1h-1zM169 511h1v1h-1zM170 511h1v1h-1zM171 511h1v1h-1zM172 511h1v1h-1zM173 511h1v1h-1zM174 511h1v1h-1zM175 511h1v1h-1zM176 511h1v1h-1zM177 511h1v1h-1zM178 511h1v1h-1zM179 511h1v1h-1zM180 511h1v1h-1zM181 511h1v1h-1zM182 511h1v1h-1zM183 511h1v1h-1zM184 511h1v1h-1zM185 511h1v1h-1zM186 511h1v1h-1zM187 511h1v1h-1zM188 511h1v1h-1zM189 512h1v1h-1zM190 513h1v1h-1zM191 513h1v1h-1zM192 514h1v1h-1zM193 514h1v1h-1zM194 515h1v1h-1zM195 516h1v1h-1zM196 516h1v1h-1zM197 517h1v1h-1zM198 518h1v1h-1zM199 519h1v1h-1zM200 519h1v1h-1zM201 520h1v1h-1zM202 521h1v1h-1zM203 521h1v1h-1zM204 522h1v1h-1zM205 523h1v1h-1zM206 523h1v1h-1zM207 524h1v1h-1zM208 524h1v1h-1zM209 525h1v1h-1zM210 525h1v1h-1zM211 525h1v1h-1zM212 525h1v1h-1zM213 525h1v1h-1zM214 525h1v1h-1zM215 524h1v1h-1zM216 524h1v1h-1zM217 524h1v1h-1zM218 524h1v1h-1zM219 523h1v1h-1zM220 523h1v1h-1zM221 523h1v1h-1zM222 522h1v1h-1zM223 522h1v1h-1zM224 522h1v1h-1zM225 521h1v1h-1zM226 521h1v1h-1zM227 521h1v1h-1zM228 521h1v1h-1zM229 521h1v1h-1zM230 521h1v1h-1zM231 521h1v1h-1zM232 521h1v1h-1zM233 522h1v1h-1zM234 522h1v1h-1zM235 523h1v1h-1zM236 524h1v1h-1zM237 525h1v2h-1zM238 527h1v2h-1zM239 529h1v2h-1zM240 531h1v2h-1zM241 533h1v2h-1zM242 535h1v2h-1zM243 537h1v3h-1zM244 540h1v2h-1zM245 542h1v3h-1zM246 545h1v2h-1zM247 547h1v2h-1zM248 549h1v2h-1zM249 551h1v2h-1zM250 553h1v2h-1zM251 555h1v1h-1zM252 556h1v2h-1zM253 558h1v1h-1zM254 559h1v1h-1zM255 560h1v1h-1zM256 561h1v1h-1zM257 562h1v1h-1zM258 562h1v1h-1zM259 563h1v1h-1zM260 563h1v1h-1zM261 563h1v1h-1zM262 563h1v1h-1zM263 562h1v1h-1zM264 562h1v1h-1zM265 562h1v1h-1zM266 561h1v1h-1zM267 561h1v1h-1zM268 560h1v1h-1zM269 559h1v1h-1zM270 558h1v1h-1zM271 557h1v1h-1zM272 556h1v1h-1zM273 554h1v2h-1zM274 553h1v1h-1zM275 552h1v1h-1zM276 550h1v2h-1zM277 549h1v1h-1zM278 547h1v2h-1zM279 546h1v1h-1zM280 544h1v2h-1zM281 543h1v1h-1zM282 541h1v2h-1zM283 540h1v1h-1zM284 538h1v2h-1zM285 537h1v1h-1zM286 535h1v2h-1zM287 534h1v1h-1zM288 532h1v2h-1zM289 531h1v1h-1zM290 530h1v1h-1zM291 528h1v2h-1zM292 527h1v1h-1zM293 526h1v1h-1zM294 525h1v1h-1zM295 525h1v1h-1zM296 524h1v1h-1zM297 523h1v1h-1zM298 522h1v1h-1zM299 522h1v1h-1zM300 521h1v1h-1zM301 520h1v1h-1zM302 519h1v1h-1zM303 518h1v1h-1zM304 517h1v1h-1zM305 517h1v1h-1zM306 516h1v1h-1zM307 516h1v1h-1zM308 515h1v1h-1zM309 515h1v1h-1zM310 514h1v1h-1zM311 514h1v1h-1zM312 514h1v1h-1zM313 514h1v1h-1zM314 513h1v1h-1zM315 513h1v1h-1zM316 513h1v1h-1zM317 513h1v1h-1zM318 513h1v1h-1zM319 513h1v1h-1zM320 513h1v1h-1zM321 513h1v1h-1zM322 513h1v1h-1zM323 513h1v1h-1zM324 513h1v1h-1zM325 513h1v1h-1zM326 513h1v1h-1zM327 513h1v1h-1zM328 513h1v1h-1zM329 513h1v1h-1zM330 513h1v1h-1zM331 513h1v1h-1zM332 513h1v1h-1zM333 514h1v1h-1zM334 514h1v1h-1zM335 514h1v1h-1zM336 514h1v1h-1zM337 515h1v1h-1zM338 515h1v1h-1zM339 515h1v1h-1zM340 516h1v1h-1zM341 516h1v1h-1zM342 517h1v1h-1zM343 517h1v1h-1zM344 518h1v1h-1zM345 518h1v1h-1zM346 518h1v1h-1zM347 519h1v1h-1zM348 519h1v1h-1zM349 520h1v1h-1zM350 520h1v1h-1zM351 521h1v1h-1zM352 521h1v1h-1zM353 522h1v1h-1zM354 522h1v1h-1zM355 523h1v1h-1zM356 523h1v1h-1zM357 524h1v1h-1zM358 524h1v1h-1zM359 525h1v1h-1zM360 526h1v1h-1zM361 526h1v1h-1zM362 527h1v1h-1zM363 527h1v1h-1zM364 528h1v1h-1zM365 528h1v1h-1zM366 528h1v1h-1zM367 528h1v1h-1zM368 528h1v1h-1zM369 528h1v1h-1zM370 528h1v1h-1zM371 528h1v1h-1zM372 528h1v1h-1zM373 528h1v1h-1zM374 528h1v1h-1zM375 528h1v1h-1zM376 528h1v1h-1zM377 528h1v1h-1zM378 527h1v1h-1zM379 527h1v1h-1zM380 527h1v1h-1zM381 526h1v1h-1zM382 526h1v1h-1zM383 526h1v1h-1zM384 525h1v1h-1zM385 525h1v1h-1zM386 524h1v1h-1zM387 523h1v1h-1zM388 522h1v1h-1zM389 522h1v1h-1zM390 521h1v1h-1zM391 520h1v1h-1zM392 520h1v1h-1zM393 520h1v1h-1zM394 519h1v1h-1zM395 519h1v1h-1zM396 519h1v1h-1zM397 519h1v1h-1zM398 519h1v1h-1zM399 519h1v1h-1zM400 519h1v1h-1zM401 519h1v1h-1zM402 519h1v1h-1zM403 519h1v1h-1zM404 520h1v1h-1zM405 520h1v1h-1zM406 520h1v1h-1zM407 520h1v1h-1zM408 521h1v1h-1zM409 521h1v1h-1zM410 522h1v1h-1zM411 522h1v1h-1zM412 522h1v1h-1zM413 523h1v1h-1zM414 523h1v1h-1zM415 524h1v1h-1zM416 524h1v1h-1zM417 524h1v1h-1zM418 524h1v1h-1zM419 524h1v1h-1zM420 524h1v1h-1zM421 524h1v1h-1zM422 524h1v1h-1zM423 524h1v1h-1zM424 523h1v1h-1zM425 523h1v1h-1zM426 523h1v1h-1zM427 522h1v1h-1zM428 521h1v1h-1zM429 520h1v1h-1zM430 519h1v1h-1zM431 518h1v1h-1zM432 517h1v1h-1zM433 516h1v1h-1zM434 515h1v1h-1zM435 514h1v1h-1zM436 513h1v1h-1zM437 512h1v1h-1zM438 511h1v1h-1zM439 511h1v1h-1zM440 510h1v1h-1zM441 510h1v1h-1zM442 509h1v1h-1zM443 509h1v1h-1zM444 508h1v1h-1zM445 508h1v1h-1zM446 508h1v1h-1zM447 508h1v1h-1zM448 507h1v1h-1zM449 507h1v1h-1zM450 507h1v1h-1zM451 507h1v1h-1zM452 507h1v1h-1zM453 507h1v1h-1zM454 507h1v1h-1zM455 508h1v1h-1zM456 508h1v1h-1zM457 508h1v1h-1zM458 509h1v1h-1zM459 510h1v1h-1zM460 511h1v1h-1zM461 512h1v1h-1zM462 513h1v1h-1zM463 514h1v1h-1zM464 514h1v1h-1zM465 515h1v1h-1zM466 516h1v1h-1zM467 517h1v1h-1zM468 518h1v1h-1zM469 519h1v1h-1zM470 519h1v1h-1zM471 520h1v1h-1zM472 520h1v1h-1zM473 520h1v1h-1zM474 520h1v1h-1zM475 520h1v1h-1zM476 520h1v1h-1zM477 519h1v1h-1zM478 519h1v1h-1zM479 519h1v1h-1zM480 518h1v1h-1zM481 518h1v1h-1zM482 518h1v1h-1zM483 518h1v1h-1zM484 517h1v1h-1zM485 517h1v1h-1zM486 517h1v1h-1zM487 516h1v1h-1zM488 516h1v1h-1zM489 516h1v1h-1zM490 516h1v1h-1zM491 516h1v1h-1zM492 516h1v1h-1zM493 516h1v1h-1zM494 516h1v1h-1zM495 516h1v1h-1zM496 516h1v1h-1zM497 516h1v1h-1zM498 517h1v1h-1zM499 517h1v1h-1zM500 517h1v1h-1zM501 517h1v1h-1zM502 517h1v1h-1zM503 517h1v1h-1zM504 517h1v1h-1zM505 517h1v1h-1zM506 518h1v1h-1zM507 518h1v1h-1zM508 518h1v1h-1zM509 518h1v1h-1zM510 518h1v1h-1zM511 518h1v1h-1zM512 518h1v1h-1zM513 518h1v1h-1zM514 518h1v1h-1zM515 519h1v1h-1zM516 519h1v1h-1zM517 519h1v1h-1zM518 519h1v1h-1zM519 519h1v1h-1zM520 520h1v1h-1zM521 520h1v1h-1zM522 520h1v1h-1zM523 520h1v1h-1zM524 520h1v1h-1zM525 520h1v1h-1zM526 520h1v1h-1zM527 520h1v1h-1zM528 520h1v1h-1zM529 520h1v1h-1zM530 520h1v1h-1zM531 520h1v1h-1zM532 520h1v1h-1zM533 519h1v1h-1zM534 519h1v1h-1zM535 519h1v1h-1zM536 519h1v1h-1zM537 518h1v1h-1zM538 518h1v1h-1zM539 517h1v1h-1zM540 517h1v1h-1zM541 516h1v1h-1zM542 516h1v1h-1zM543 516h1v1h-1zM544 516h1v1h-1zM545 516h1v1h-1zM546 516h1v1h-1zM547 516h1v1h-1zM548 516h1v1h-1zM549 516h1v1h-1zM550 516h1v1h-1zM551 516h1v1h-1zM552 516h1v1h-1zM553 516h1v1h-1zM554 516h1v1h-1zM555 517h1v1h-1zM556 517h1v1h-1zM557 517h1v1h-1zM558 518h1v1h-1zM559 518h1v1h-1zM560 518h1v1h-1zM561 518h1v1h-1zM562 517h1v1h-1zM563 517h1v1h-1zM564 517h1v1h-1zM565 516h1v1h-1zM566 516h1v1h-1zM567 515h1v1h-1zM568 515h1v1h-1zM569 515h1v1h-1zM570 514h1v1h-1zM571 513h1v1h-1zM572 513h1v1h-1zM573 512h1v1h-1zM574 511h1v1h-1zM575 511h1v1h-1zM576 510h1v1h-1zM577 510h1v1h-1zM578 509h1v1h-1zM579 509h1v1h-1zM580 508h1v1h-1zM581 508h1v1h-1zM582 507h1v1h-1zM583 507h1v1h-1zM584 507h1v1h-1zM585 506h1v1h-1zM586 506h1v1h-1zM587 506h1v1h-1zM588 506h1v1h-1zM589 506h1v1h-1zM590 506h1v1h-1zM591 506h1v1h-1zM592 505h1v1h-1zM593 505h1v1h-1zM594 505h1v1h-1zM595 505h1v1h-1zM596 504h1v1h-1zM597 504h1v1h-1zM598 503h1v1h-1zM599 503h1v1h-1zM600 502h1v1h-1zM601 501h1v1h-1zM602 500h1v1h-1zM603 499h1v1h-1zM604 499h1v1h-1zM605 498h1v1h-1zM606 497h1v1h-1zM607 496h1v1h-1zM608 495h1v1h-1zM609 494h1v1h-1zM610 493h1v1h-1zM611 493h1v1h-1zM612 493h1v1h-1zM613 493h1v1h-1zM614 493h1v1h-1zM615 493h1v1h-1zM616 493h1v1h-1zM617 493h1v1h-1zM618 493h1v1h-1zM619 493h1v1h-1zM620 494h1v1h-1zM621 494h1v1h-1zM622 494h1v1h-1zM623 494h1v1h-1zM624 495h1v1h-1zM625 495h1v1h-1zM626 495h1v1h-1zM627 496h1v1h-1zM628 496h1v1h-1zM629 496h1v1h-1zM630 497h1v1h-1zM631 497h1v1h-1zM632 497h1v1h-1zM633 498h1v1h-1zM634 498h1v1h-1zM635 499h1v1h-1zM636 499h1v1h-1zM637 499h1v1h-1zM638 500h1v1h-1zM639 500h1v1h-1zM640 501h1v1h-1zM641 501h1v1h-1zM642 502h1v1h-1zM643 502h1v1h-1zM644 502h1v1h-1zM645 503h1v1h-1zM646 503h1v1h-1zM647 504h1v1h-1zM648 504h1v1h-1zM649 505h1v1h-1zM650 505h1v1h-1zM651 506h1v1h-1zM652 506h1v1h-1zM653 507h1v1h-1zM654 507h1v1h-1zM655 508h1v1h-1zM656 508h1v1h-1zM657 509h1v1h-1zM658 510h1v1h-1zM659 510h1v1h-1zM660 511h1v1h-1zM661 512h1v1h-1zM662 512h1v1h-1zM663 513h1v1h-1zM664 513h1v1h-1zM665 514h1v1h-1zM666 514h1v1h-1zM667 515h1v1h-1zM668 515h1v1h-1zM669 516h1v1h-1zM670 516h1v1h-1zM671 517h1v1h-1zM672 517h1v1h-1zM673 518h1v1h-1zM674 519h1v1h-1zM675 520h1v1h-1zM676 521h1v1h-1zM677 522h1v1h-1zM678 523h1v1h-1zM679 523h1v1h-1zM680 524h1v1h-1zM681 525h1v1h-1zM682 526h1v1h-1zM683 527h1v1h-1zM684 528h1v1h-1zM685 529h1v1h-1zM686 530h1v1h-1zM687 531h1v1h-1zM688 531h1v1h-1zM689 532h1v1h-1zM690 533h1v1h-1zM691 533h1v1h-1zM692 534h1v1h-1zM693 535h1v1h-1zM694 535h1v1h-1zM695 536h1v1h-1zM696 536h1v1h-1zM697 536h1v1h-1zM698 536h1v1h-1zM699 536h1v1h-1zM700 536h1v1h-1zM701 536h1v1h-1zM702 536h1v1h-1zM703 536h1v1h-1zM704 536h1v1h-1zM705 536h1v1h-1zM706 536h1v1h-1zM707 536h1v1h-1zM708 536h1v1h-1zM709 535h1v1h-1zM710 535h1v1h-1zM711 534h1v1h-1zM712 534h1v1h-1zM713 533h1v1h-1zM714 533h1v1h-1zM715 532h1v1h-1zM716 532h1v1h-1zM717 531h1v1h-1zM718 530h1v1h-1zM719 529h1v1h-1zM720 528h1v1h-1zM721 528h1v1h-1zM722 527h1v1h-1zM723 526h1v1h-1zM724 525h1v1h-1zM725 525h1v1h-1zM726 524h1v1h-1zM727 523h1v1h-1zM728 523h1v1h-1zM729 522h1v1h-1zM730 522h1v1h-1zM731 521h1v1h-1zM732 520h1v1h-1zM733 520h1v1h-1zM734 519h1v1h-1zM735 518h1v1h-1zM736 517h1v1h-1zM737 516h1v1h-1zM738 515h1v1h-1zM739 514h1v1h-1zM740 513h1v1h-1zM741 513h1v1h-1zM742 512h1v1h-1zM743 510h1v2h-1zM744 509h1v1h-1zM745 508h1v1h-1zM746 507h1v1h-1zM747 507h1v1h-1zM748 506h1v1h-1zM749 506h1v1h-1zM750 506h1v1h-1zM751 506h1v1h-1zM752 506h1v1h-1zM753 506h1v1h-1zM754 506h1v1h-1zM755 506h1v1h-1zM756 506h1v1h-1zM757 507h1v1h-1zM758 507h1v1h-1zM759 508h1v1h-1zM760 509h1v1h-1zM761 509h1v1h-1zM762 510h1v1h-1zM763 511h1v1h-1zM764 512h1v1h-1zM765 513h1v1h-1zM766 514h1v1h-1zM767 515h1v1h-1zM768 516h1v1h-1zM769 517h1v1h-1zM770 518h1v1h-1zM771 519h1v1h-1zM772 519h1v1h-1zM773 520h1v1h-1zM774 521h1v1h-1zM775 521h1v1h-1zM776 522h1v1h-1zM777 522h1v1h-1zM778 523h1v1h-1zM779 523h1v1h-1zM780 524h1v1h-1zM781 524h1v1h-1zM782 525h1v1h-1zM783 525h1v1h-1zM784 525h1v1h-1zM785 526h1v1h-1zM786 526h1v1h-1zM787 526h1v1h-1zM788 526h1v1h-1zM789 526h1v1h-1zM790 527h1v1h-1zM791 527h1v1h-1zM792 527h1v1h-1zM793 527h1v1h-1zM794 527h1v1h-1zM795 527h1v1h-1zM796 526h1v1h-1zM797 526h1v1h-1zM798 526h1v1h-1zM799 525h1v1h-1zM800 525h1v1h-1zM801 524h1v1h-1zM802 524h1v1h-1zM803 523h1v1h-1zM804 522h1v1h-1zM805 521h1v1h-1zM806 520h1v1h-1zM807 519h1v1h-1zM808 518h1v1h-1zM809 517h1v1h-1zM810 516h1v1h-1zM811 515h1v1h-1zM812 514h1v1h-1zM813 513h1v1h-1zM814 512h1v1h-1zM815 511h1v1h-1zM816 511h1v1h-1zM817 510h1v1h-1zM818 509h1v1h-1zM819 509h1v1h-1zM820 508h1v1h-1zM821 508h1v1h-1zM822 508h1v1h-1zM823 507h1v1h-1zM824 507h1v1h-1zM825 506h1v1h-1zM826 506h1v1h-1zM827 506h1v1h-1zM828 505h1v1h-1zM829 505h1v1h-1zM830 505h1v1h-1zM831 504h1v1h-1zM832 504h1v1h-1zM833 504h1v1h-1zM834 503h1v1h-1zM835 503h1v1h-1zM836 503h1v1h-1zM837 503h1v1h-1zM838 503h1v1h-1zM839 503h1v1h-1zM840 503h1v1h-1zM841 503h1v1h-1zM842 503h1v1h-1zM843 503h1v1h-1zM844 503h1v1h-1zM845 503h1v1h-1zM846 503h1v1h-1zM847 503h1v1h-1zM848 503h1v1h-1zM849 503h1v1h-1zM850 503h1v1h-1zM851 503h1v1h-1zM852 503h1v1h-1zM853 503h1v1h-1zM854 503h1v1h-1zM855 503h1v1h-1zM856 503h1v1h-1zM857 503h1v1h-1zM858 503h1v1h-1zM859 503h1v1h-1zM860 502h1v1h-1zM861 502h1v1h-1zM862 501h1v1h-1zM863 501h1v1h-1zM864 500h1v1h-1zM865 500h1v1h-1zM866 499h1v1h-1zM867 499h1v1h-1zM868 499h1v1h-1zM869 498h1v1h-1zM870 498h1v1h-1zM871 498h1v1h-1zM872 498h1v1h-1zM873 498h1v1h-1zM874 498h1v1h-1zM875 498h1v1h-1zM876 498h1v1h-1zM877 498h1v1h-1zM878 498h1v1h-1zM879 498h1v1h-1zM880 498h1v1h-1zM881 498h1v1h-1zM882 498h1v1h-1zM883 498h1v1h-1zM884 498h1v1h-1zM885 498h1v1h-1zM886 498h1v1h-1zM887 498h1v1h-1zM888 498h1v1h-1zM889 498h1v1h-1zM890 498h1v1h-1zM891 498h1v1h-1zM892 498h1v1h-1zM893 497h1v1h-1zM894 497h1v1h-1zM895 497h1v1h-1zM896 497h1v1h-1zM897 497h1v1h-1zM898 497h1v1h-1zM899 497h1v1h-1zM900 496h1v1h-1zM901 496h1v1h-1zM902 496h1v1h-1zM903 495h1v1h-1zM904 495h1v1h-1zM905 494h1v1h-1zM906 494h1v1h-1zM907 494h1v1h-1zM908 494h1v1h-1zM909 493h1v1h-1zM910 493h1v1h-1zM911 493h1v1h-1zM912 493h1v1h-1zM913 493h1v1h-1zM914 492h1v1h-1zM915 492h1v1h-1zM916 492h1v1h-1zM917 492h1v1h-1zM918 492h1v1h-1zM919 492h1v1h-1zM920 493h1v1h-1zM921 493h1v1h-1zM922 493h1v1h-1zM923 493h1v1h-1zM924 494h1v1h-1zM925 494h1v1h-1zM926 494h1v1h-1zM927 495h1v1h-1zM928 495h1v1h-1z" fill="#ff0000" />
<path d="M5 599.5H1167" stroke="#c0c0c0" stroke-width="1" stroke-dasharray="3 3" fill="none"/>
<path d="M5 633.5H1167" stroke="#c0c0c0" stroke-width="1" stroke-dasharray="3 3" fill="none"/>
<path d="M4 605h1v1h-1zM5 605h1v1h-1zM6 606h1v1h-1zM7 606h1v1h-1zM8 606h1v2h-1zM9 608h1v4h-1zM10 612h1v4h-1zM11 616h1v3h-1zM12 618h1v1h-1zM13 618h1v1h-1zM14 619h1v1h-1zM15 618h1v1h-1zM16 618h1v1h-1zM17 617h1v1h-1zM18 616h1v1h-1zM19 614h1v2h-1zM20 613h1v1h-1zM21 611h1v2h-1zM22 610h1v1h-1zM23 611h1v1h-1zM24 611h1v1h-1zM25 611h1v1h-1zM26 611h1v1h-1zM27 610h1v1h-1zM28 610h1v1h-1zM29 609h1v1h-1zM30 609h1v1h-1zM31 607h1v2h-1zM32 605h1v2h-1zM33 603h1v2h-1zM34 604h1v1h-1zM35 605h1v2h-1zM36 607h1v2h-1zM37 608h1v1h-1zM38 607h1v1h-1zM39 606h1v1h-1zM40 606h1v1h-1zM41 606h1v1h-1zM42 605h1v1h-1zM43 605h1v2h-1zM44 607h1v2h-1zM45 609h1v3h-1zM46 612h1v2h-1zM47 614h1v3h-1zM48 617h1v2h-1zM49 619h1v1h-1zM50 620h1v1h-1zM51 621h1v1h-1zM52 622h1v2h-1zM53 623h1v1h-1zM54 623h1v1h-1zM55 622h1v1h-1zM56 621h1v1h-1zM57 620h1v1h-1zM58 620h1v1h-1zM59 620h1v1h-1zM60 620h1v1h-1zM61 620h1v1h-1zM62 620h1v1h-1zM63 620h1v1h-1zM64 621h1v1h-1zM65 622h1v1h-1zM66 623h1v1h-1zM67 623h1v1h-1zM68 622h1v1h-1zM69 621h1v2h-1zM70 623h1v2h-1zM71 625h1v2h-1zM72 621h1v4h-1zM73 618h1v3h-1zM74 618h1v1h-1zM75 617h1v1h-1zM76 616h1v1h-1zM77 616h1v1h-1zM78 617h1v2h-1zM79 618h1v1h-1zM80 616h1v2h-1zM81 613h1v3h-1zM82 611h1v2h-1zM83 610h1v1h-1zM84 610h1v1h-1zM85 609h1v1h-1zM86 609h1v1h-1zM87 609h1v1h-1zM88 610h1v1h-1zM89 610h1v1h-1zM90 611h1v1h-1zM91 610h1v1h-1zM92 609h1v1h-1zM93 608h1v1h-1zM94 608h1v1h-1zM95 607h1v1h-1zM96 608h1v1h-1zM97 608h1v1h-1zM98 609h1v2h-1zM99 611h1v2h-1zM100 613h1v2h-1zM101 614h1v1h-1zM102 615h1v1h-1zM103 616h1v3h-1zM104 619h1v4h-1zM105 623h1v3h-1zM106 621h1v3h-1zM107 619h1v2h-1zM108 617h1v2h-1zM109 617h1v1h-1zM110 616h1v1h-1zM111 616h1v1h-1zM112 617h1v1h-1zM113 618h1v1h-1zM114 619h1v1h-1zM115 620h1v1h-1zM116 621h1v2h-1zM117 623h1v3h-1zM118 626h1v3h-1zM119 629h1v3h-1zM120 632h1v3h-1zM121 634h1v1h-1zM122 634h1v1h-1zM123 633h1v1h-1zM124 633h1v1h-1zM125 633h1v1h-1zM126 634h1v1h-1zM127 634h1v1h-1zM128 632h1v2h-1zM129 627h1v5h-1zM130 620h1v7h-1zM131 616h1v4h-1zM132 617h1v1h-1zM133 617h1v1h-1zM134 618h1v1h-1zM135 618h1v1h-1zM136 619h1v1h-1zM137 619h1v1h-1zM138 620h1v1h-1zM139 620h1v1h-1zM140 620h1v1h-1zM141 618h1v2h-1zM142 616h1v2h-1zM143 614h1v2h-1zM144 612h1v2h-1zM145 611h1v1h-1zM146 612h1v1h-1zM147 612h1v1h-1zM148 613h1v1h-1zM149 614h1v1h-1zM150 614h1v1h-1zM151 615h1v1h-1zM152 616h1v1h-1zM153 616h1v1h-1zM154 616h1v1h-1zM155 616h1v1h-1zM156 615h1v1h-1zM157 615h1v1h-1zM158 615h1v1h-1zM159 616h1v1h-1zM160 616h1v1h-1zM161 616h1v1h-1zM162 615h1v1h-1zM163 614h1v1h-1zM164 613h1v1h-1zM165 611h1v2h-1zM166 608h1v3h-1zM167 606h1v2h-1zM168 608h1v3h-1zM169 611h1v3h-1zM170 614h1v2h-1zM171 616h1v1h-1zM172 617h1v1h-1zM173 618h1v1h-1zM174 619h1v1h-1zM175 619h1v1h-1zM176 619h1v1h-1zM177 619h1v1h-1zM178 619h1v1h-1zM179 617h1v2h-1zM180 615h1v2h-1zM181 614h1v1h-1zM182 615h1v1h-1zM183 616h1v1h-1zM184 615h1v1h-1zM185 613h1v2h-1zM186 614h1v2h-1zM187 616h1v3h-1zM188 619h1v3h-1zM189 622h1v2h-1zM190 624h1v2h-1zM191 626h1v2h-1zM192 628h1v2h-1zM193 630h1v2h-1zM194 631h1v1h-1zM195 631h1v1h-1zM196 631h1v1h-1zM197 631h1v1h-1zM198 631h1v1h-1zM199 629h1v2h-1zM200 627h1v2h-1zM201 625h1v2h-1zM202 624h1v1h-1zM203 623h1v1h-1zM204 623h1v1h-1zM205 623h1v1h-1zM206 623h1v1h-1zM207 623h1v1h-1zM208 623h1v1h-1zM209 624h1v1h-1zM210 624h1v1h-1zM211 624h1v1h-1zM212 623h1v1h-1zM213 623h1v1h-1zM214 622h1v1h-1zM215 621h1v1h-1zM216 621h1v1h-1zM217 621h1v1h-1zM218 621h1v1h-1zM219 621h1v1h-1zM220 621h1v1h-1zM221 621h1v1h-1zM222 620h1v1h-1zM223 619h1v1h-1zM224 619h1v1h-1zM225 619h1v1h-1zM226 620h1v1h-1zM227 621h1v1h-1zM228 622h1v3h-1zM229 625h1v7h-1zM230 632h1v6h-1zM231 638h1v4h-1zM232 641h1v1h-1zM233 642h1v1h-1zM234 642h1v1h-1zM235 643h1v1h-1zM236 644h1v1h-1zM237 645h1v1h-1zM238 646h1v1h-1zM239 646h1v1h-1zM240 646h1v1h-1zM241 647h1v1h-1zM242 647h1v1h-1zM243 647h1v1h-1zM244 645h1v2h-1zM245 644h1v1h-1zM246 643h1v1h-1zM247 643h1v1h-1zM248 643h1v1h-1zM249 643h1v1h-1zM250 643h1v1h-1zM251 642h1v1h-1zM252 641h1v1h-1zM253 641h1v1h-1zM254 641h1v1h-1zM255 642h1v1h-1zM256 642h1v1h-1zM257 642h1v1h-1zM258 640h1v2h-1zM259 637h1v3h-1zM260 634h1v3h-1zM261 632h1v2h-1zM262 630h1v2h-1zM263 629h1v1h-1zM264 628h1v1h-1zM265 627h1v1h-1zM266 626h1v1h-1zM267 627h1v1h-1zM268 628h1v1h-1zM269 629h1v1h-1zM270 630h1v1h-1zM271 630h1v1h-1zM272 631h1v1h-1zM273 629h1v2h-1zM274 627h1v2h-1zM275 625h1v2h-1zM276 622h1v3h-1zM277 620h1v2h-1zM278 618h1v2h-1zM279 617h1v1h-1zM280 618h1v1h-1zM281 619h1v2h-1zM282 618h1v2h-1zM283 617h1v1h-1zM284 615h1v2h-1zM285 613h1v2h-1zM286 611h1v2h-1zM287 610h1v2h-1zM288 612h1v2h-1zM289 614h1v3h-1zM290 617h1v2h-1zM291 618h1v1h-1zM292 619h1v1h-1zM293 620h1v1h-1zM294 619h1v1h-1zM295 618h1v1h-1zM296 617h1v1h-1zM297 615h1v2h-1zM298 615h1v1h-1zM299 614h1v1h-1zM300 615h1v2h-1zM301 617h1v2h-1zM302 618h1v1h-1zM303 617h1v1h-1zM304 616h1v1h-1zM305 616h1v1h-1zM306 615h1v1h-1zM307 615h1v1h-1zM308 614h1v1h-1zM309 612h1v2h-1zM310 610h1v2h-1zM311 608h1v2h-1zM312 610h1v4h-1zM313 614h1v3h-1zM314 617h1v1h-1zM315 618h1v1h-1zM316 619h1v1h-1zM317 620h1v1h-1zM318 619h1v1h-1zM319 618h1v1h-1zM320 617h1v1h-1zM321 616h1v1h-1zM322 617h1v1h-1zM323 617h1v1h-1zM324 617h1v1h-1zM325 618h1v1h-1zM326 619h1v1h-1zM327 619h1v1h-1zM328 620h1v1h-1zM329 620h1v1h-1zM330 621h1v1h-1zM331 621h1v1h-1zM332 622h1v1h-1zM333 623h1v1h-1zM334 624h1v1h-1zM335 625h1v2h-1zM336 625h1v1h-1zM337 624h1v1h-1zM338 623h1v1h-1zM339 621h1v2h-1zM340 622h1v1h-1zM341 622h1v1h-1zM342 623h1v1h-1zM343 624h1v1h-1zM344 625h1v1h-1zM345 626h1v2h-1zM346 628h1v1h-1zM347 629h1v1h-1zM348 630h1v2h-1zM349 632h1v1h-1zM350 631h1v1h-1zM351 630h1v1h-1zM352 630h1v1h-1zM353 631h1v1h-1zM354 632h1v1h-1zM355 631h1v1h-1zM356 628h1v3h-1zM357 626h1v2h-1zM358 623h1v3h-1zM359 621h1v2h-1zM360 622h1v2h-1zM361 624h1v1h-1zM362 625h1v1h-1zM363 626h1v1h-1zM364 627h1v1h-1zM365 627h1v1h-1zM366 628h1v1h-1zM367 629h1v1h-1zM368 630h1v1h-1zM369 630h1v2h-1zM370 628h1v2h-1zM371 626h1v2h-1zM372 624h1v2h-1zM373 622h1v2h-1zM374 620h1v2h-1zM375 618h1v2h-1zM376 618h1v1h-1zM377 619h1v1h-1zM378 619h1v1h-1zM379 618h1v1h-1zM380 617h1v1h-1zM381 616h1v1h-1zM382 616h1v1h-1zM383 616h1v1h-1zM384 617h1v1h-1zM385 617h1v1h-1zM386 617h1v1h-1zM387 617h1v1h-1zM388 616h1v1h-1zM389 616h1v1h-1zM390 615h1v1h-1zM391 613h1v2h-1zM392 615h1v3h-1zM393 618h1v4h-1zM394 622h1v2h-1zM395 624h1v1h-1zM396 625h1v1h-1zM397 626h1v1h-1zM398 626h1v1h-1zM399 626h1v1h-1zM400 625h1v1h-1zM401 624h1v1h-1zM402 624h1v1h-1zM403 624h1v1h-1zM404 625h1v1h-1zM405 626h1v1h-1zM406 627h1v1h-1zM407 628h1v1h-1zM408 629h1v1h-1zM409 629h1v1h-1zM410 630h1v1h-1zM411 631h1v1h-1zM412 631h1v1h-1zM413 632h1v1h-1zM414 629h1v3h-1zM415 624h1v5h-1zM416 620h1v4h-1zM417 616h1v4h-1zM418 613h1v3h-1zM419 612h1v1h-1zM420 613h1v1h-1zM421 614h1v1h-1zM422 615h1v2h-1zM423 616h1v1h-1zM424 617h1v1h-1zM425 617h1v1h-1zM426 617h1v1h-1zM427 616h1v1h-1zM428 614h1v2h-1zM429 612h1v2h-1zM430 611h1v1h-1zM431 610h1v1h-1zM432 610h1v1h-1zM433 609h1v1h-1zM434 609h1v1h-1zM435 608h1v1h-1zM436 609h1v1h-1zM437 610h1v1h-1zM438 611h1v1h-1zM439 612h1v1h-1zM440 613h1v2h-1zM441 615h1v2h-1zM442 614h1v2h-1zM443 612h1v2h-1zM444 612h1v1h-1zM445 612h1v1h-1zM446 613h1v1h-1zM447 614h1v1h-1zM448 613h1v1h-1zM449 613h1v1h-1zM450 613h1v1h-1zM451 614h1v2h-1zM452 616h1v2h-1zM453 618h1v3h-1zM454 621h1v2h-1zM455 623h1v3h-1zM456 626h1v2h-1zM457 628h1v3h-1zM458 631h1v2h-1zM459 631h1v1h-1zM460 630h1v1h-1zM461 629h1v1h-1zM462 627h1v2h-1zM463 626h1v1h-1zM464 625h1v1h-1zM465 622h1v3h-1zM466 619h1v3h-1zM467 617h1v2h-1zM468 617h1v1h-1zM469 617h1v1h-1zM470 616h1v1h-1zM471 616h1v1h-1zM472 615h1v1h-1zM473 615h1v1h-1zM474 614h1v1h-1zM475 614h1v1h-1zM476 614h1v1h-1zM477 615h1v2h-1zM478 617h1v1h-1zM479 618h1v2h-1zM480 620h1v1h-1zM481 621h1v1h-1zM482 621h1v1h-1zM483 621h1v1h-1zM484 620h1v1h-1zM485 620h1v1h-1zM486 619h1v1h-1zM487 619h1v1h-1zM488 618h1v1h-1zM489 617h1v1h-1zM490 618h1v1h-1zM491 619h1v2h-1zM492 621h1v1h-1zM493 620h1v1h-1zM494 619h1v1h-1zM495 619h1v1h-1zM496 620h1v1h-1zM497 621h1v1h-1zM498 621h1v1h-1zM499 622h1v2h-1zM500 624h1v2h-1zM501 625h1v2h-1zM502 622h1v3h-1zM503 619h1v3h-1zM504 618h1v1h-1zM505 618h1v1h-1zM506 618h1v1h-1zM507 619h1v1h-1zM508 620h1v1h-1zM509 621h1v2h-1zM510 623h1v1h-1zM511 622h1v1h-1zM512 620h1v2h-1zM513 619h1v2h-1zM514 621h1v3h-1zM515 624h1v2h-1zM516 625h1v1h-1zM517 624h1v1h-1zM518 622h1v2h-1zM519 621h1v1h-1zM520 622h1v1h-1zM521 623h1v1h-1zM522 623h1v1h-1zM523 624h1v1h-1zM524 625h1v1h-1zM525 623h1v2h-1zM526 621h1v2h-1zM527 619h1v2h-1zM528 617h1v2h-1zM529 616h1v1h-1zM530 616h1v1h-1zM531 616h1v1h-1zM532 616h1v1h-1zM533 616h1v1h-1zM534 616h1v1h-1zM535 615h1v1h-1zM536 614h1v1h-1zM537 612h1v2h-1zM538 611h1v1h-1zM539 611h1v4h-1zM540 615h1v5h-1zM541 620h1v3h-1zM542 622h1v1h-1zM543 622h1v1h-1zM544 621h1v1h-1zM545 621h1v1h-1zM546 621h1v1h-1zM547 622h1v1h-1zM548 622h1v1h-1zM549 622h1v1h-1zM550 623h1v1h-1zM551 623h1v1h-1zM552 623h1v1h-1zM553 623h1v1h-1zM554 621h1v2h-1zM555 620h1v1h-1zM556 620h1v1h-1zM557 620h1v1h-1zM558 620h1v1h-1zM559 618h1v2h-1zM560 615h1v3h-1zM561 612h1v3h-1zM562 610h1v2h-1zM563 609h1v1h-1zM564 609h1v1h-1zM565 609h1v1h-1zM566 609h1v1h-1zM567 609h1v1h-1zM568 610h1v1h-1zM569 611h1v1h-1zM570 612h1v1h-1zM571 612h1v2h-1zM572 614h1v3h-1zM573 617h1v2h-1zM574 614h1v3h-1zM575 611h1v3h-1zM576 607h1v4h-1zM577 605h1v2h-1zM578 606h1v1h-1zM579 607h1v1h-1zM580 607h1v1h-1zM581 608h1v1h-1zM582 609h1v1h-1zM583 610h1v1h-1zM584 611h1v1h-1zM585 612h1v2h-1zM586 614h1v3h-1zM587 617h1v3h-1zM588 616h1v3h-1zM589 612h1v4h-1zM590 608h1v4h-1zM591 606h1v2h-1zM592 605h1v1h-1zM593 605h1v1h-1zM594 604h1v1h-1zM595 603h1v1h-1zM596 602h1v1h-1zM597 600h1v2h-1zM598 599h1v1h-1zM599 599h1v1h-1zM600 598h1v1h-1zM601 598h1v1h-1zM602 598h1v1h-1zM603 598h1v1h-1zM604 598h1v1h-1zM605 599h1v1h-1zM606 600h1v1h-1zM607 601h1v1h-1zM608 600h1v1h-1zM609 600h1v1h-1zM610 601h1v3h-1zM611 604h1v3h-1zM612 607h1v2h-1zM613 609h1v1h-1zM614 610h1v2h-1zM615 612h1v1h-1zM616 611h1v1h-1zM617 609h1v2h-1zM618 607h1v2h-1zM619 607h1v1h-1zM620 606h1v1h-1zM621 605h1v1h-1zM622 606h1v1h-1zM623 607h1v1h-1zM624 608h1v2h-1zM625 609h1v1h-1zM626 610h1v1h-1zM627 611h1v1h-1zM628 611h1v1h-1zM629 611h1v1h-1zM630 610h1v1h-1zM631 610h1v1h-1zM632 609h1v1h-1zM633 609h1v1h-1zM634 610h1v2h-1zM635 612h1v2h-1zM636 614h1v2h-1zM637 616h1v2h-1zM638 616h1v1h-1zM639 615h1v1h-1zM640 614h1v1h-1zM641 613h1v1h-1zM642 613h1v1h-1zM643 614h1v1h-1zM644 615h1v2h-1zM645 614h1v2h-1zM646 610h1v4h-1zM647 608h1v4h-1zM648 612h1v6h-1zM649 618h1v4h-1zM650 621h1v1h-1zM651 621h1v1h-1zM652 622h1v1h-1zM653 622h1v1h-1zM654 622h1v1h-1zM655 622h1v1h-1zM656 622h1v1h-1zM657 622h1v1h-1zM658 622h1v1h-1zM659 621h1v1h-1zM660 621h1v1h-1zM661 621h1v1h-1zM662 622h1v1h-1zM663 623h1v1h-1zM664 624h1v1h-1zM665 625h1v1h-1zM666 626h1v1h-1zM667 627h1v1h-1zM668 628h1v2h-1zM669 630h1v2h-1zM670 632h1v2h-1zM671 634h1v2h-1zM672 636h1v2h-1zM673 637h1v1h-1zM674 637h1v1h-1zM675 637h1v1h-1zM676 637h1v1h-1zM677 637h1v1h-1zM678 637h1v1h-1zM679 637h1v1h-1zM680 638h1v1h-1zM681 638h1v1h-1zM682 638h1v1h-1zM683 638h1v1h-1zM684 637h1v1h-1zM685 637h1v1h-1zM686 638h1v1h-1zM687 639h1v1h-1zM688 640h1v1h-1zM689 640h1v1h-1zM690 639h1v1h-1zM691 637h1v2h-1zM692 638h1v1h-1zM693 639h1v1h-1zM694 640h1v1h-1zM695 641h1v1h-1zM696 640h1v1h-1zM697 639h1v1h-1zM698 638h1v1h-1zM699 638h1v1h-1zM700 637h1v1h-1zM701 637h1v1h-1zM702 637h1v1h-1zM703 637h1v1h-1zM704 638h1v1h-1zM705 635h1v3h-1zM706 630h1v5h-1zM707 626h1v4h-1zM708 624h1v2h-1zM709 624h1v1h-1zM710 623h1v1h-1zM711 622h1v1h-1zM712 622h1v1h-1zM713 622h1v1h-1zM714 622h1v1h-1zM715 622h1v1h-1zM716 622h1v1h-1zM717 623h1v2h-1zM718 625h1v1h-1zM719 626h1v2h-1zM720 625h1v2h-1zM721 624h1v1h-1zM722 623h1v1h-1zM723 623h1v1h-1zM724 622h1v1h-1zM725 622h1v1h-1zM726 621h1v1h-1zM727 619h1v2h-1zM728 616h1v3h-1zM729 613h1v3h-1zM730 610h1v3h-1zM731 606h1v4h-1zM732 603h1v3h-1zM733 601h1v2h-1zM734 600h1v1h-1zM735 600h1v1h-1zM736 601h1v1h-1zM737 601h1v1h-1zM738 602h1v1h-1zM739 603h1v2h-1zM740 605h1v2h-1zM741 607h1v1h-1zM742 606h1v1h-1zM743 606h1v1h-1zM744 607h1v3h-1zM745 610h1v2h-1zM746 611h1v1h-1zM747 612h1v1h-1zM748 612h1v1h-1zM749 612h1v1h-1zM750 613h1v1h-1zM751 613h1v1h-1zM752 614h1v2h-1zM753 616h1v4h-1zM754 620h1v4h-1zM755 624h1v4h-1zM756 628h1v3h-1zM757 631h1v2h-1zM758 632h1v1h-1zM759 631h1v1h-1zM760 631h1v1h-1zM761 631h1v1h-1zM762 630h1v1h-1zM763 630h1v1h-1zM764 630h1v1h-1zM765 630h1v1h-1zM766 630h1v1h-1zM767 631h1v1h-1zM768 632h1v1h-1zM769 631h1v1h-1zM770 629h1v2h-1zM771 629h1v1h-1zM772 630h1v2h-1zM773 632h1v2h-1zM774 634h1v2h-1zM775 632h1v3h-1zM776 628h1v4h-1zM777 626h1v2h-1zM778 625h1v1h-1zM779 625h1v1h-1zM780 626h1v1h-1zM781 627h1v2h-1zM782 629h1v1h-1zM783 629h1v1h-1zM784 628h1v1h-1zM785 628h1v1h-1zM786 627h1v1h-1zM787 626h1v1h-1zM788 627h1v1h-1zM789 628h1v1h-1zM790 627h1v1h-1zM791 626h1v1h-1zM792 624h1v2h-1zM793 622h1v2h-1zM794 619h1v3h-1zM795 617h1v2h-1zM796 615h1v2h-1zM797 614h1v1h-1zM798 614h1v1h-1zM799 614h1v1h-1zM800 613h1v1h-1zM801 611h1v2h-1zM802 609h1v2h-1zM803 608h1v1h-1zM804 608h1v1h-1zM805 609h1v1h-1zM806 609h1v1h-1zM807 609h1v1h-1zM808 609h1v1h-1zM809 609h1v1h-1zM810 610h1v1h-1zM811 611h1v1h-1zM812 612h1v1h-1zM813 612h1v1h-1zM814 611h1v1h-1zM815 609h1v2h-1zM816 608h1v1h-1zM817 607h1v1h-1zM818 607h1v1h-1zM819 606h1v2h-1zM820 608h1v2h-1zM821 610h1v2h-1zM822 612h1v1h-1zM823 612h1v1h-1zM824 611h1v1h-1zM825 611h1v1h-1zM826 610h1v1h-1zM827 610h1v1h-1zM828 609h1v1h-1zM829 608h1v1h-1zM830 606h1v2h-1zM831 604h1v2h-1zM832 604h1v1h-1zM833 605h1v1h-1zM834 606h1v1h-1zM835 607h1v1h-1zM836 607h1v1h-1zM837 607h1v1h-1zM838 608h1v1h-1zM839 609h1v2h-1zM840 611h1v1h-1zM841 611h1v1h-1zM842 610h1v1h-1zM843 611h1v1h-1zM844 612h1v1h-1zM845 613h1v1h-1zM846 613h1v1h-1zM847 613h1v1h-1zM848 612h1v1h-1zM849 611h1v1h-1zM850 610h1v2h-1zM851 608h1v2h-1zM852 606h1v2h-1zM853 604h1v2h-1zM854 602h1v2h-1zM855 601h1v1h-1zM856 600h1v1h-1zM857 599h1v1h-1zM858 600h1v1h-1zM859 601h1v1h-1zM860 602h1v2h-1zM861 603h1v1h-1zM862 604h1v1h-1zM863 604h1v1h-1zM864 605h1v1h-1zM865 605h1v1h-1zM866 604h1v1h-1zM867 604h1v1h-1zM868 603h1v1h-1zM869 601h1v2h-1zM870 599h1v2h-1zM871 597h1v2h-1zM872 598h1v1h-1zM873 599h1v1h-1zM874 600h1v1h-1zM875 601h1v3h-1zM876 604h1v4h-1zM877 608h1v2h-1zM878 609h1v1h-1zM879 609h1v1h-1zM880 609h1v1h-1zM881 610h1v1h-1zM882 611h1v1h-1zM883 611h1v2h-1zM884 608h1v3h-1zM885 605h1v3h-1zM886 601h1v4h-1zM887 599h1v2h-1zM888 600h1v2h-1zM889 602h1v1h-1zM890 603h1v1h-1zM891 604h1v1h-1zM892 603h1v1h-1zM893 602h1v1h-1zM894 602h1v1h-1zM895 601h1v1h-1zM896 601h1v1h-1zM897 600h1v1h-1zM898 600h1v1h-1zM899 599h1v1h-1zM900 598h1v1h-1zM901 597h1v1h-1zM902 596h1v1h-1zM903 595h1v1h-1zM904 595h1v1h-1zM905 595h1v1h-1zM906 595h1v1h-1zM907 596h1v2h-1zM908 598h1v2h-1zM909 600h1v1h-1zM910 598h1v2h-1zM911 597h1v1h-1zM912 597h1v1h-1zM913 598h1v1h-1zM914 598h1v2h-1zM915 600h1v2h-1zM916 602h1v2h-1zM917 604h1v2h-1zM918 606h1v2h-1zM919 608h1v1h-1zM920 609h1v1h-1zM921 610h1v1h-1zM922 610h1v1h-1zM923 611h1v1h-1zM924 610h1v1h-1zM925 610h1v1h-1zM926 609h1v1h-1zM927 609h1v1h-1zM928 608h1v1h-1z" fill="#1e90ff" />
</svg>
<div class="t" style="left:1173.30px;top:47px;font-size:10px;line-height:12px;letter-spacing:-0.507px;">1.22580</div><div class="t" style="left:1173.30px;top:80px;font-size:10px;line-height:12px;letter-spacing:-0.507px;">1.22120</div><div class="t" style="left:1173.30px;top:113px;font-size:10px;line-height:12px;letter-spacing:-0.507px;">1.21650</div><div class="t" style="left:1173.30px;top:146px;font-size:10px;line-height:12px;letter-spacing:-0.401px;">1.21180</div><div class="t" style="left:1173.30px;top:179px;font-size:10px;line-height:12px;letter-spacing:-0.507px;">1.20720</div><div class="t" style="left:1173.30px;top:212px;font-size:10px;line-height:12px;letter-spacing:-0.507px;">1.20250</div><div class="t" style="left:1173.30px;top:245px;font-size:10px;line-height:12px;letter-spacing:-0.507px;">1.19780</div><div class="t" style="left:1173.30px;top:278px;font-size:10px;line-height:12px;letter-spacing:-0.507px;">1.19310</div><div class="t" style="left:1173.30px;top:311px;font-size:10px;line-height:12px;letter-spacing:-0.507px;">1.18850</div><div class="t" style="left:1173.30px;top:344px;font-size:10px;line-height:12px;letter-spacing:-0.507px;">1.18380</div><div class="t" style="left:1173.30px;top:377px;font-size:10px;line-height:12px;letter-spacing:-0.507px;">1.17910</div><div class="t" style="left:1173.30px;top:410px;font-size:10px;line-height:12px;letter-spacing:-0.507px;">1.17450</div><div class="t" style="left:1173.30px;top:476px;font-size:10px;line-height:12px;letter-spacing:-0.507px;">1.16510</div><div class="a" style="left:1169px;top:157px;width:40px;height:11px;background:#ff0000"></div><div class="t" style="left:1173.30px;top:157px;font-size:10px;line-height:12px;letter-spacing:-0.507px;color:#fff;">1.21010</div><div class="a" style="left:1169px;top:228px;width:40px;height:11px;background:#ff0000"></div><div class="t" style="left:1173.30px;top:228px;font-size:10px;line-height:12px;letter-spacing:-0.507px;color:#fff;">1.20004</div><div class="a" style="left:1169px;top:300px;width:40px;height:11px;background:#ff0000"></div><div class="t" style="left:1173.30px;top:300px;font-size:10px;line-height:12px;letter-spacing:-0.507px;color:#fff;">1.18998</div><div class="a" style="left:1169px;top:321px;width:40px;height:11px;background:#000"></div><div class="t" style="left:1173.30px;top:321px;font-size:10px;line-height:12px;letter-spacing:-0.507px;color:#fff;">1.18706</div><div class="a" style="left:1169px;top:368px;width:40px;height:11px;background:#00ff00"></div><div class="t" style="left:1173.30px;top:368px;font-size:10px;line-height:12px;letter-spacing:-0.507px;color:#fff;">1.18024</div><div class="a" style="left:1169px;top:441px;width:40px;height:11px;background:#0000ff"></div><div class="t" style="left:1173.30px;top:441px;font-size:10px;line-height:12px;letter-spacing:-0.507px;color:#fff;">1.17002</div><div class="t" style="left:1171.30px;top:488px;font-size:10px;line-height:12px;letter-spacing:-0.539px;">0.002947</div><div class="t" style="left:1171.30px;top:506px;font-size:10px;line-height:12px;letter-spacing:-0.366px;">0.00</div><div class="t" style="left:1171.30px;top:558px;font-size:10px;line-height:12px;letter-spacing:-0.505px;">-0.007151</div><div class="t" style="left:1171.30px;top:574px;font-size:10px;line-height:12px;letter-spacing:-0.695px;">100</div><div class="t" style="left:1169.90px;top:594px;font-size:10px;line-height:12px;letter-spacing:-0.462px;">70</div><div class="t" style="left:1169.90px;top:628px;font-size:10px;line-height:12px;letter-spacing:-0.462px;">30</div><div class="t" style="left:1171.30px;top:647px;font-size:10px;line-height:12px;letter-spacing:0.000px;">0</div>
<svg class="a" style="left:8px;top:30px" width="8" height="6"><path d="M0 5L3.5 1L7 5Z" fill="#000"/></svg><div class="t" style="left:20.00px;top:27px;font-size:10px;line-height:12px;letter-spacing:-0.373px;">EURUSD,H4&nbsp; 1.18697 1.18720 1.18696 1.18706</div><div class="t" style="left:9.20px;top:490px;font-size:10px;line-height:12px;letter-spacing:-0.350px;">MACD(12,26,9) 0.001410 0.001947</div><div class="t" style="left:9.20px;top:576px;font-size:10px;line-height:12px;letter-spacing:-0.372px;">RSI(14) 59.7921</div>
<div class="a" style="left:5px;top:66px;width:1px;height:12px;background:#f00"></div><div class="a" style="left:5px;top:86px;width:2px;height:2px;background:#f00"></div><div class="a" style="left:5px;top:93px;width:2px;height:1px;background:#00f"></div><div class="a" style="left:8px;top:68px;width:109px;height:33px;background:linear-gradient(#3c3ceb,#0000a8);border:1px solid #0a0ac4;box-sizing:border-box"></div><div class="a" style="left:119px;top:68px;width:108px;height:33px;background:linear-gradient(#3c3ceb,#0000a8);border:1px solid #0a0ac4;box-sizing:border-box"></div><div class="a" style="left:8px;top:44px;width:52px;height:25px;background:linear-gradient(#5858fc,#3c3ceb);border:1px solid #0a0ac4;border-bottom:none;box-sizing:border-box"></div><div class="a" style="left:175px;top:44px;width:52px;height:25px;background:linear-gradient(#5858fc,#3c3ceb);border:1px solid #0a0ac4;border-bottom:none;box-sizing:border-box"></div><div class="a" style="left:12px;top:68px;width:45px;height:1px;background:#a4a4ff"></div><div class="a" style="left:179px;top:68px;width:45px;height:1px;background:#a4a4ff"></div><div class="a" style="left:62px;top:44px;width:111px;height:22px;background:#fff;border:1px solid #a6a6a6;box-sizing:border-box"></div><div class="a" style="left:64px;top:46px;width:18px;height:18px;background:linear-gradient(#f1f1f1 0%,#e9e9e9 38%,#d6d6d6 40%,#d2d2d2 100%)"></div><div class="a" style="left:153px;top:46px;width:18px;height:18px;background:linear-gradient(#f1f1f1 0%,#e9e9e9 38%,#d6d6d6 40%,#d2d2d2 100%)"></div><div class="a" style="left:83px;top:45px;width:1px;height:20px;background:#a6a6a6"></div><div class="a" style="left:151px;top:45px;width:1px;height:20px;background:#a6a6a6"></div><svg class="a" style="left:70px;top:53px" width="5" height="3" shape-rendering="crispEdges"><path d="M0 0h5v1h-5zM1 1h3v1h-3zM2 2h1v1h-1z" fill="#4c5cb8"/></svg><svg class="a" style="left:159px;top:53px" width="5" height="3" shape-rendering="crispEdges"><path d="M2 0h1v1h-1zM1 1h3v1h-3zM0 2h5v1h-5z" fill="#4c5cb8"/></svg><div class="t" style="left:124.20px;top:49px;font-size:13px;line-height:12px;letter-spacing:-0.251px;">3.00</div><div class="t" style="left:19.80px;top:50px;font-size:12px;line-height:12px;letter-spacing:-0.689px;color:#fff;">SELL</div><div class="t" style="left:187.80px;top:50px;font-size:12px;line-height:12px;letter-spacing:0.042px;color:#fff;">BUY</div><div class="t" style="left:27.60px;top:86px;font-size:12px;line-height:12px;letter-spacing:0.461px;color:#fff;font-weight:bold;">1.18</div><div class="t" style="left:137.60px;top:86px;font-size:12px;line-height:12px;letter-spacing:0.461px;color:#fff;font-weight:bold;">1.18</div><div class="t" style="left:54.00px;top:78px;font-size:34px;line-height:12px;letter-spacing:-0.710px;color:#fff;">70</div><div class="t" style="left:165.00px;top:78px;font-size:34px;line-height:12px;letter-spacing:-0.710px;color:#fff;">71</div><div class="t" style="left:94.60px;top:71px;font-size:13.5px;line-height:12px;letter-spacing:0.000px;color:#fff;font-weight:bold;">9</div><div class="t" style="left:205.10px;top:71px;font-size:13.5px;line-height:12px;letter-spacing:0.000px;color:#fff;font-weight:bold;">9</div>
<div class="t" style="left:3.80px;top:663px;font-size:10px;line-height:12px;letter-spacing:-0.263px;">21 May 2021</div><div class="t" style="left:67.80px;top:663px;font-size:10px;line-height:12px;letter-spacing:-0.252px;">28 May 14:00</div><div class="t" style="left:131.80px;top:663px;font-size:10px;line-height:12px;letter-spacing:-0.238px;">4 Jun 22:00</div><div class="t" style="left:195.80px;top:663px;font-size:10px;line-height:12px;letter-spacing:-0.241px;">14 Jun 07:00</div><div class="t" style="left:259.80px;top:663px;font-size:10px;line-height:12px;letter-spacing:-0.241px;">21 Jun 15:00</div><div class="t" style="left:323.80px;top:663px;font-size:10px;line-height:12px;letter-spacing:-0.241px;">28 Jun 23:00</div><div class="t" style="left:387.80px;top:663px;font-size:10px;line-height:12px;letter-spacing:-0.222px;">6 Jul 06:00</div><div class="t" style="left:451.80px;top:663px;font-size:10px;line-height:12px;letter-spacing:-0.227px;">13 Jul 14:00</div><div class="t" style="left:515.80px;top:663px;font-size:10px;line-height:12px;letter-spacing:-0.227px;">20 Jul 22:00</div><div class="t" style="left:579.80px;top:663px;font-size:10px;line-height:12px;letter-spacing:-0.227px;">28 Jul 04:00</div><div class="t" style="left:643.80px;top:663px;font-size:10px;line-height:12px;letter-spacing:-0.243px;">4 Aug 14:00</div><div class="t" style="left:707.80px;top:663px;font-size:10px;line-height:12px;letter-spacing:-0.243px;">11 Aug 22:00</div><div class="t" style="left:771.80px;top:663px;font-size:10px;line-height:12px;letter-spacing:-0.246px;">19 Aug 04:00</div><div class="t" style="left:835.80px;top:663px;font-size:10px;line-height:12px;letter-spacing:-0.246px;">26 Aug 14:00</div><div class="t" style="left:899.80px;top:663px;font-size:10px;line-height:12px;letter-spacing:-0.245px;">2 Sep 22:00</div>
<div class="a" style="left:0;top:680px;width:1209px;height:1px;background:#e4e4e4"></div><div class="a" style="left:0;top:682px;width:1209px;height:23px;background:#f0f0f0"></div><div class="a" style="left:0;top:682px;width:1209px;height:1px;background:#000"></div><div class="a" style="left:0;top:701px;width:1209px;height:2px;background:#fafafa"></div><div class="a" style="left:0;top:683px;width:1209px;height:1px;background:#f8f8f8"></div><div class="a" style="left:0;top:682px;width:2px;height:19px;background:#909090"></div><div class="a" style="left:6px;top:682px;width:90px;height:18px;background:#fff;border:1px solid #000;border-top:none"></div><div class="t" style="left:17.90px;top:687px;font-size:12px;line-height:12px;letter-spacing:-0.128px;color:#000;">EURUSD,H4</div><div class="t" style="left:108.50px;top:687px;font-size:12px;line-height:12px;letter-spacing:0.193px;color:#6a6a6a;">AUDUSD,Daily</div><div class="t" style="left:211.50px;top:687px;font-size:12px;line-height:12px;letter-spacing:0.095px;color:#6a6a6a;">USDCHF,H4</div><div class="t" style="left:300.50px;top:687px;font-size:12px;line-height:12px;letter-spacing:0.102px;color:#6a6a6a;">USDCAD,Daily</div><div class="t" style="left:403.50px;top:687px;font-size:12px;line-height:12px;letter-spacing:0.188px;color:#6a6a6a;">USDCNH,Daily</div><div class="t" style="left:509.70px;top:687px;font-size:12px;line-height:12px;letter-spacing:0.224px;color:#6a6a6a;">UKOil,H1</div><div class="t" style="left:583.40px;top:687px;font-size:12px;line-height:12px;letter-spacing:0.102px;color:#6a6a6a;">DJ30,H1</div><div class="t" style="left:653.40px;top:687px;font-size:12px;line-height:12px;letter-spacing:0.084px;color:#6a6a6a;">USDX,H1</div><div class="t" style="left:728.30px;top:687px;font-size:12px;line-height:12px;letter-spacing:0.146px;color:#6a6a6a;">XAUUSD,H4</div><div class="t" style="left:821.30px;top:687px;font-size:12px;line-height:12px;letter-spacing:-0.128px;color:#6a6a6a;">GBPUSD,H1</div><div class="sep" style="left:202px"></div><div class="sep" style="left:290px"></div><div class="sep" style="left:394px"></div><div class="sep" style="left:498px"></div><div class="sep" style="left:575px"></div><div class="sep" style="left:643px"></div><div class="sep" style="left:719px"></div><div class="sep" style="left:810px"></div><div class="sep" style="left:902px"></div><svg class="a" style="left:1182px;top:687px" width="26" height="9"><path d="M1 4.5L4.5 1V8Z M23.5 4.5L20 1V8Z" fill="#8c8c8c"/></svg>
</body></html>
